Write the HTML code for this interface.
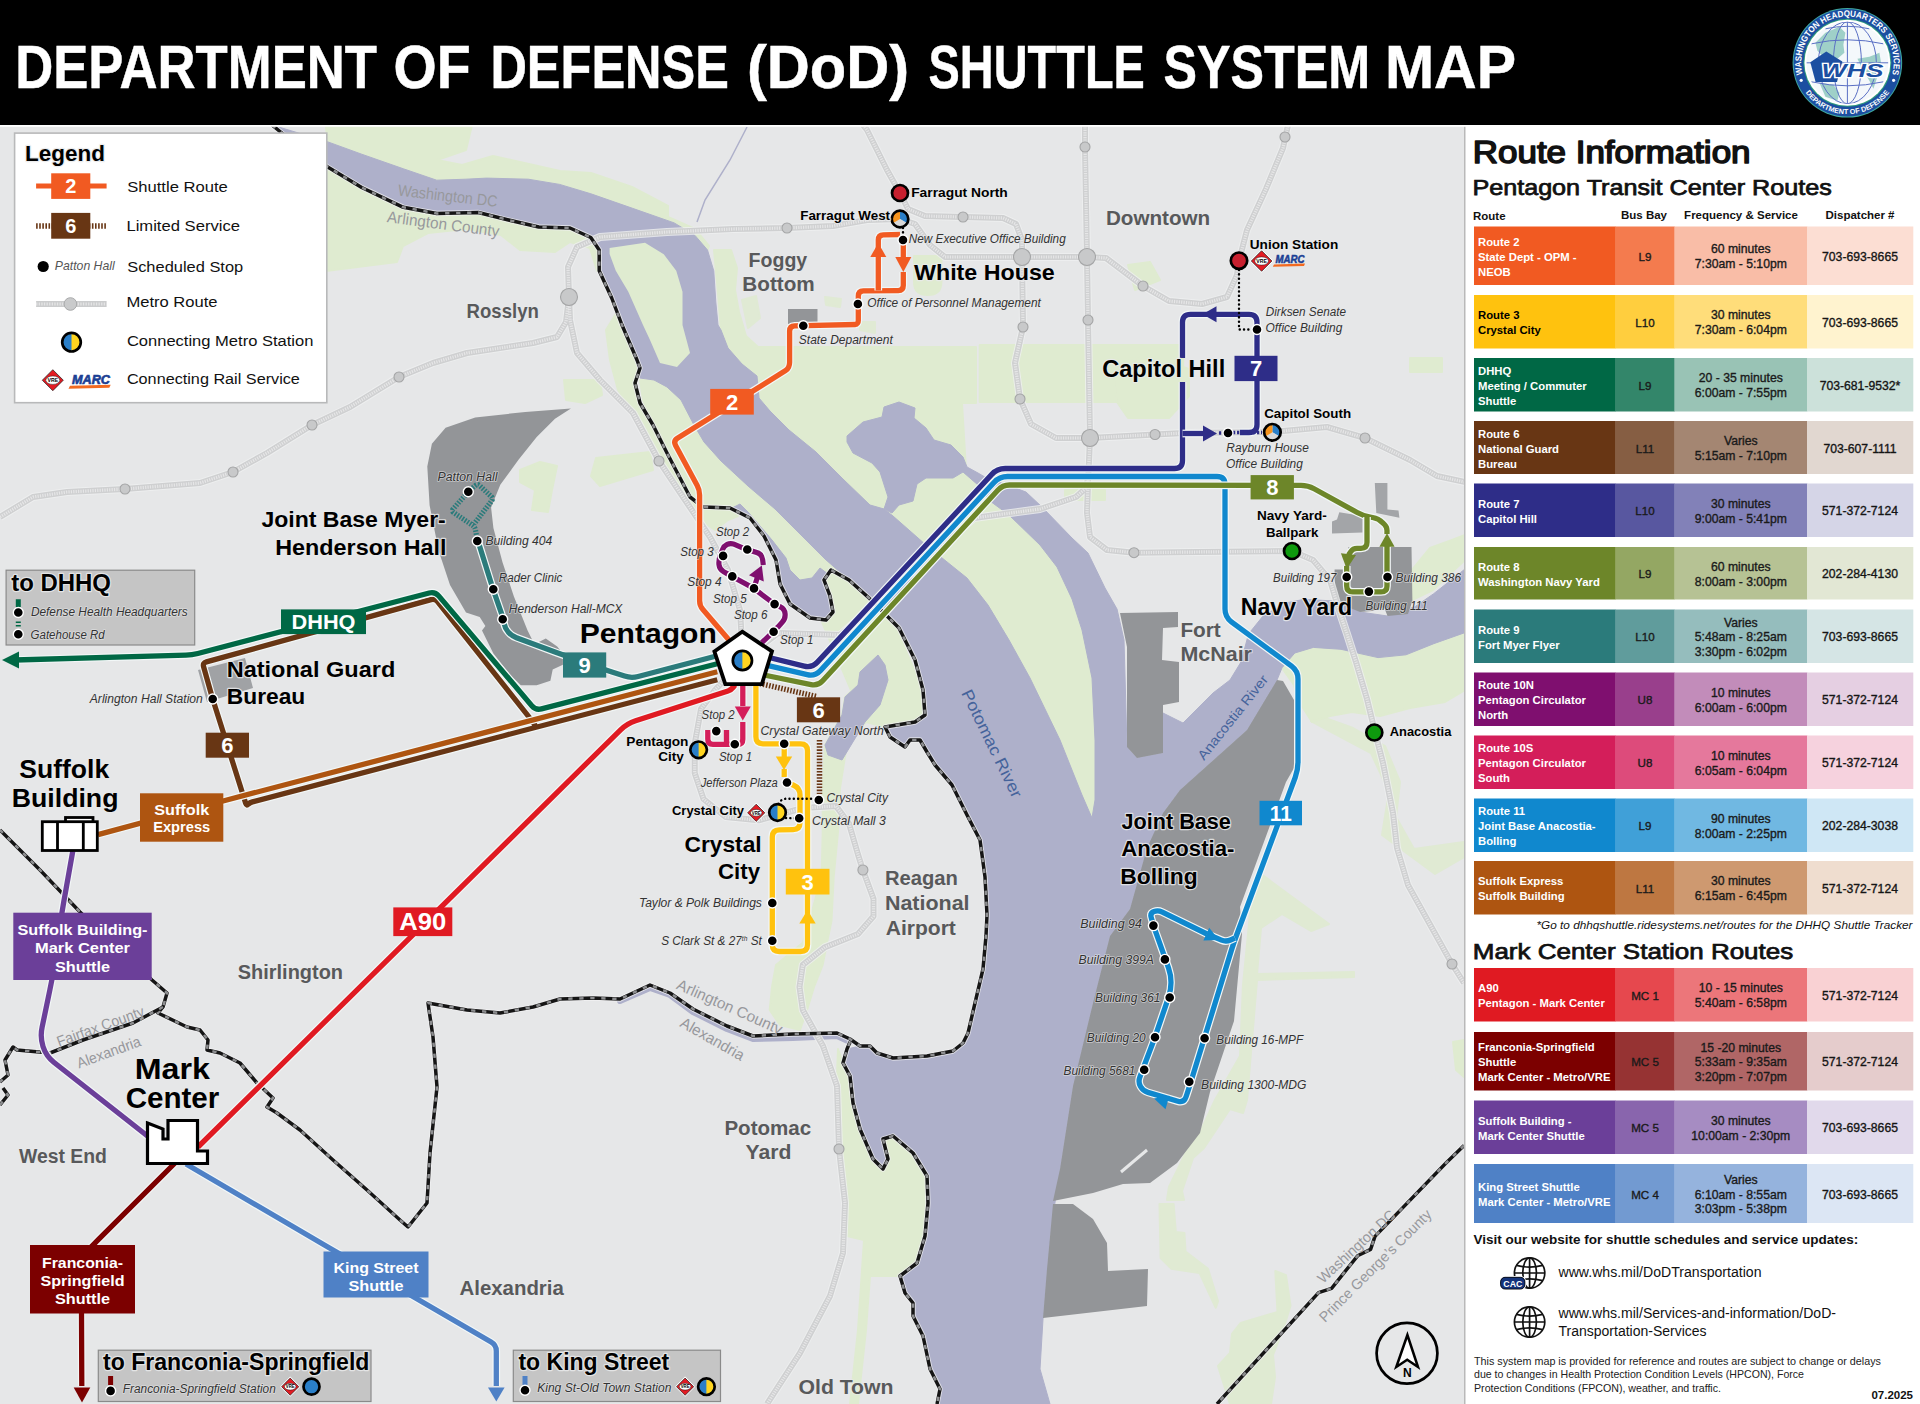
<!DOCTYPE html>
<html><head><meta charset="utf-8"><title>DoD Shuttle System Map</title>
<style>
html,body{margin:0;padding:0;background:#fff;}
body{width:1920px;height:1404px;overflow:hidden;font-family:"Liberation Sans",sans-serif;}
svg{display:block;position:absolute;left:0;top:0;}
text{font-family:"Liberation Sans",sans-serif;}
.sb{stroke:#1a1a1a;stroke-width:.35px;}
.lbl{font-weight:bold;fill:#000;paint-order:stroke;stroke:#e9eaeb;stroke-width:2.4px;stroke-linejoin:round;stroke-opacity:.85;}
.area{font-weight:bold;fill:#58595b;paint-order:stroke;stroke:#e9eaeb;stroke-width:2px;stroke-linejoin:round;stroke-opacity:.7;}
.stop{font-style:italic;fill:#333;font-size:12.5px;paint-order:stroke;stroke:#e9eaeb;stroke-width:1.6px;stroke-linejoin:round;stroke-opacity:.6;}
</style></head><body>
<svg width="1920" height="1404" viewBox="0 0 1920 1404">
<rect x="0" y="0" width="1920" height="1404" fill="#fff"/>
<!-- ===== MAP BASE ===== -->
<defs>
<clipPath id="mapclip"><rect x="0" y="125" width="1464" height="1279"/></clipPath>
</defs>
<g clip-path="url(#mapclip)">
<rect x="0" y="125" width="1465" height="1279" fill="#e6e7e8"/>
<!-- parks -->
<g fill="#dfebd0" stroke="#dfebd0" stroke-width="2" stroke-linejoin="round">
<!-- north bank strip along river top -->
<path d="M326,127 L472,125 L466,150 L437,160 L462,165 L493,156 L520,162 L560,171 L591,173 L632,187 L668,206 L668,217 L695,229 L709,246 L707.5,250 L695,235.4 L674.2,222.9 L632.5,208.3 L590.8,193.75 L559.6,184.4 L528.3,179.2 L486.7,178.1 L465.8,179.2 L436.7,180.2 L403.3,168.75 L361.7,154.2 L327.3,141.7 Z"/>
<!-- south bank strip (Arlington side) -->
<path d="M326,166 L361.7,187.5 L403.3,207.3 L436.7,213.5 L478.3,212.5 L507.5,219.8 L538.75,227 L570,228 L590.8,237.5 L599.2,250 L599.2,270.8 L597,271 L590,248 L570,242 L555,252 L520,250 L501,235 L466,229 L428,233 L403,246 L397,262 L326,271 Z"/>
<!-- west potomac park + mall -->
<path d="M714,250 L718,293 L721,330 L728,348 L742,364 L757,376 L759,398 L770,411 L789,430 L816,452 L843,479 L870,505 L893,516 L926,545 L967,578 L988,605 L1009,640 L1030,678 L1060,740 L1082,795 L1092,818 L1095,800 L1095,740 L1092,678 L1082,630 L1072,599 L1057,567 L1040,545 L1009,515 L990,501 L978,480 L966,470 L962,403 L976,403 L976,347 L758,347 L746,336 L739,312 L735,290 L737,268 L731,250 Z"/>
<rect x="979.7" y="345" width="203.5" height="57"/>
<!-- ellipse / white house -->
<path d="M914,256 H941.4 V282 Q941.4,295 927.7,295 Q914,295 914,282 Z"/>
<path d="M825,297 L841,299 L840,307 L826,305 Z M742,300 L756,296 L760,318 L748,328 Z M860,322 L875,322 L875,333 L860,330 Z" opacity=".8"/>
<!-- Roosevelt island -->
<path d="M609.6,248 L645,242.7 L663.75,254.2 L676.25,270.8 L682.5,291.7 L682.5,325 L690,353 L677,367 L660,363 L650,340 L643,325 L628.3,291.7 L615.8,270.8 L609.6,254 Z"/>
<!-- Columbia island / LBJ park -->
<path d="M640,380 L654,380 L667,387 L681,400 L694,425 L704,442 L721,461 L748,486 L775,509 L800,534 L825,559 L822,572 L812,578 L800,580 L790,570 L786,558 L772,540 L760,526 L748,512 L732,507 L716,509 L698,507 L691,500 L681,479 L667,452 L654,425 L643,400 Z"/>
<!-- GW parkway strip south of lagoon to airport -->
<path d="M825,559 L868,598 L897,630 L915,672 L923,690 L925,715 L915,722 L885,727 L866,722 L880,705 L888,680 L885,665 L878,655 L860,672 L858,685 L845,697 L842,715 L825,745 L822.7,788 L822.7,832 L821.6,876.6 L809.4,920.7 L802.8,942.8 L776,964.9 L772,987 L769.7,1010 L780,1025 L800,1030 L807,1010 L814,987 L822.7,964.9 L827,942.8 L831.5,920.7 L833.7,876.6 L838,832 L840,788 L847,744 L865,723 L822,622 L832,609 L830,588 L822,576 Z"/>
<!-- arlington cemetery greens -->
<path d="M564,380 L600,380 L602,395 L585,403 L566,400 Z"/>
<path d="M596,458 L650,452 L653,470 L600,486 L591,476 Z"/>
<path d="M520,470 L540,462 L557,466 L552,490 L548,512 L532,510 L535,490 L520,482 Z"/>
<path d="M620,307 L637,360 L640,368 L635,383 L640,403 L653,425 L667,453 L690,497 L703,507 L730,508 L738,516 L728,520 L715,530 L700,520 L683,497 L659,461 L633,413 L618,390 L610,360 L606,330 Z"/>
<!-- Daingerfield island -->
<path d="M838,1049 L843,1063 L850,1076 L853,1103 L860,1129 L873,1159 L883,1169 L888,1159 L883,1139 L893,1136 L913,1153 L927,1176 L928,1203 L925,1236 L917,1263 L900,1276 L870,1276 L866,1330 L858,1404 L850,1404 L858,1330 L864,1240 L847,1236 L843,1169 L836,1100 Z"/>
<!-- anacostia park greens -->
<path d="M1465,560 L1433,590 L1412,600 L1412,570 L1430,548 L1452,540 L1465,535 Z"/>
<path d="M1282,668 L1295,653 L1313,647 L1341,649 L1378,658 L1406,655 L1434,644 L1465,632 L1465,690 L1445,702 L1410,708 L1380,716 L1352,712 L1330,716 L1312,722 L1298,700 L1294,685 Z"/>
<path d="M1311,721 L1339,736 L1371,753 L1389,792 L1382,835 L1435,874 L1464,857 L1464,842 L1414,849 L1396,817 L1400,782 L1385,746 L1353,728 L1325,718 Z" opacity=".85"/>
<path d="M1261,874 L1329,924 L1311,931 L1282,914 L1261,928 L1257,974 L1354,972 L1354,977 L1257,980 L1247,1100 L1243,1113 L1230,1109 L1204,1148 L1193,1158 L1182,1191 L1184,1200 L1167,1200 L1169,1187 L1187,1150 L1202,1128 L1215,1100 L1240,1056 L1243,985 L1250,914 Z" opacity=".85"/>
<path d="M1159.5,1204 L1173.6,1204 L1175.8,1232 L1184.4,1233 L1185.5,1251.5 L1208,1268.8 L1218,1301.3 L1215.8,1307.8 L1199.6,1273 L1171.4,1268.8 L1160.6,1258 Z" opacity=".85"/>
<path d="M1275.3,1271 L1286,1275.3 L1290.5,1305.6 L1284,1327 L1273,1355 L1275,1377 L1271,1404 L1230,1404 L1218,1366 L1230,1353 L1232,1333.8 L1240.7,1323 L1277.5,1312 Z" opacity=".9"/>
<path d="M1453,1042 L1464,1040 L1464,1077 L1456,1070 Z"/>
<!-- capitol grounds -->
<path d="M1111,360 L1153,357 L1189,369 L1189,396 L1169,418 L1128,418 L1117,402 Z"/>
<!-- misc small parks -->
<rect x="1410" y="358" width="32" height="14"/>
<rect x="1065" y="490" width="40" height="10"/>
<path d="M1128,265 L1150,262 L1160,280 L1135,290 Z"/>
</g>
<!-- water -->
<g fill="#aeb0ca" stroke="#aeb0ca" stroke-width="1" stroke-linejoin="round">
<!-- upper river + main channel -->
<path d="M272,125 L327.3,141.7 L361.7,154.2 L403.3,168.75 L436.7,180.2 L465.8,179.2 L486.7,178.1 L528.3,179.2 L559.6,184.4 L590.8,193.75 L632.5,208.3 L674.2,222.9 L695,235.4 L707.5,250 L713.75,270.8 L715.8,302 L718,325 L721,330 L728,348 L742,364 L757,376 L759,398 L770,411 L789,430 L816,452 L843,479 L870,505 L884,509 L893,516 L926,545 L967,578 L988,605 L1009,640 L1030,678 L1060,740 L1082,795 L1092,818 L1095,800 L1095,740 L1092,678 L1082,630 L1072,599 L1057,567 L1040,545 L1009,515 L990,501 L978,480 L988,478 L1026,492 L1042,507 L1072,538 L1088,553 L1105,588 L1117,609 L1124,640 L1127,747 L1137,758 L1163,753 L1163,713 L1183,723 L1213,693 L1230,680 L1241,662 L1248.5,634 L1263,616 L1285.6,603 L1304,599.3 L1334,601 L1360,612 L1387.5,616 L1415,606.7 L1433.7,593.7 L1465,569 L1465,632.6 L1433.7,643.7 L1406,654.8 L1378,657.6 L1341,649.3 L1313.3,647.4 L1294.8,653 L1282,667.8 L1277,680 L1247,730 L1180,790 L1163,813 L1147,848 L1130,909 L1110,936 L1093,1003 L1073,1086 L1060,1169 L1050,1236 L1043,1319 L1040,1369 L1050,1404 L937,1404 L940,1389 L930,1369 L923,1336 L913,1316 L913,1303 L905,1293 L900,1276 L917,1263 L925,1236 L928,1203 L927,1176 L913,1153 L893,1136 L883,1139 L888,1159 L883,1169 L873,1159 L860,1129 L853,1103 L850,1076 L843,1063 L847,1049 L860,1046 L870,1046 L877,1053 L893,1058 L927,1056 L953,1051 L963,1043 L968,1033 L975,1003 L983,969 L986,936 L987,915 L985,877 L980,840 L967,815 L952,785 L935,765 L927,752 L920,740 L910,740 L905,747 L890,737 L885,727 L915,722 L925,715 L923,690 L915,660 L899,628 L869,598 L849,580 L825,559 L800,534 L775,509 L748,486 L721,461 L704,442 L694,425 L681,400 L667,387 L654,380 L640,378 L636,360 L622,325 L611.7,298 L599.2,270.8 L599.2,250 L590.8,237.5 L570,228 L538.75,227 L507.5,219.8 L478.3,212.5 L436.7,213.5 L403.3,207.3 L361.7,187.5 L327.3,166.7 L272,127 Z"/>
<!-- tidal basin -->
<path d="M847,436 L863,422 L882,417 L884,407 L899,402 L915,408 L914,418 L926,428 L934,440 L951,445 L963,457 L967,467 L978,473 L990,480 L990,501 L978,485 L963,472 L953,478 L926,478 L917,484 L913,501 L899,505 L892,513 L884,509 L888,497 L880,472 L872,463 L853,453 L847,442 Z"/>
<!-- pentagon lagoon -->
<path d="M732,508 L750,518 L764,536 L776,560 L780,584 L790,604 L810,618 L826,620 L833,612 L830,596 L824,580 L828,574 L820,568 L812,578 L800,580 L790,570 L786,558 L772,540 L760,526 L748,512 L740,504 Z"/>
<!-- roaches run -->
<path d="M860,672 L878,655 L885,665 L888,680 L880,705 L865,722 L842,760 L828,755 L825,745 L842,715 L845,697 L858,685 Z"/>
</g>
<!-- four mile run -->
<path d="M620,1001 L650,988 L670,995 L693,1012 L727,1029 L753,1039 L793,1038 L837,1036 L850,1042" fill="none" stroke="#aeb0ca" stroke-width="6" stroke-linecap="round" stroke-linejoin="round"/>
<!-- rock creek -->
<path d="M747,127 L730,160 L705,200 L697,222" fill="none" stroke="#aeb0ca" stroke-width="1.5"/>
<!-- re-draw parks on water: islands -->
<g fill="#dfebd0">
<path d="M609.6,248 L645,242.7 L663.75,254.2 L676.25,270.8 L682.5,291.7 L682.5,325 L690,353 L677,367 L660,363 L650,340 L643,325 L628.3,291.7 L615.8,270.8 L609.6,254 Z"/>
</g>
<!-- bases (gray) -->
<g fill="#939598">
<!-- JBMHH -->
<path d="M570.9,408.5 L525.3,411.9 L475.2,417.6 L445.6,427.8 L431.9,443.8 L427.3,466.6 L429.6,505.3 L438.7,550.9 L450,585 L466,612.4 L479.7,617 L485.4,626 L482,630.6 L493.4,653.4 L509.4,674 L520.8,685.3 L536.7,685.3 L550.4,680.8 L552.7,669.4 L562.9,664.8 L562.9,653.4 L557.2,646.6 L545.8,638.6 L534.4,644.3 L527.6,630.6 L513.9,596.4 L502.5,562.3 L493.4,528 L491.1,507.6 L500.3,484.8 L518.5,459.7 L536.7,437 L555,418.7 Z"/>
<!-- NGB -->
<path d="M198,670 L245,658 L253,688 L207,702 Z" fill="#a0a2a5"/>
<!-- State dept -->
<rect x="788" y="309" width="29.5" height="17.5"/>
<!-- Fort McNair -->
<path d="M1120,613 L1178,612 L1178,627 L1163,628 L1162,660 L1179,662 L1179,702 L1163,705 L1163,753 L1137,758 L1127,747 L1127,647 Z"/>
<!-- Navy yard -->
<path d="M1348.5,547 L1411.5,547 L1412.4,601 L1408,614 L1387.5,616 L1384,607 L1372,611 L1360,612 L1345,606 L1334.6,601 L1334.6,569.6 L1345,569.6 Z"/>
<path d="M1339.3,512.2 L1362.4,515.9 L1362.4,532.6 L1332,533.5 L1332,521.5 L1337,519.5 Z" fill="#a3a5a8"/>
<path d="M1374.8,483 L1387.4,483 L1387.4,509.4 L1398.5,510.4 L1399.4,517.8 L1376.3,513.1 Z" fill="#a3a5a8"/>
<!-- JBAB -->
<path d="M1283,681 L1294,700 L1294,768 L1286,782 L1240,907 L1242,934 L1234,1021 L1210,1092 L1200,1133 L1177,1163 L1150,1183 L1123,1184 L1093,1193 L1053,1201 L1060,1169 L1073,1086 L1093,1003 L1110,936 L1130,909 L1147,848 L1163,813 L1180,790 L1247,730 L1277,680 Z"/>
<path d="M1121,1172 L1147,1150" stroke="#e6e7e8" stroke-width="3" fill="none"/>
<!-- NRL -->
<path d="M1053,1204 L1073,1204 L1093,1219 L1107,1243 L1108,1271 L1148,1269 L1147,1306 L1043,1318 L1047,1269 Z"/>
</g>
<!-- metro lines -->
<g fill="none" stroke-linejoin="round" stroke-linecap="butt">
<path d="M0,517 L33,497 L67,492 L125,489 L200,483 L233,472 L267,453 L312,425 L350,407 L399,377 L433,363 L467,353 L533,343 L557,337 L566,322 L569,297 L568,267 L577,247 L600,237 L667,232 L733,229 L787,228 L833,226 L867,220 L900,219 L915,224 L930,245 L945,257 L1022,257 L1087,257 L1106,258 L1143,286 L1169,301 L1202,304 L1227,297 L1237,275 L1239,261 L1247,230 L1266,189 L1283,148 L1288,125" stroke="#eff0f0" stroke-opacity=".8" stroke-width="8"/>
<path d="M863,125 L867,130 L887,170 L900,193 L908,209 L925,216 L963,217 L1003,218 L1016,224 L1022,240 L1022,257 L1023,327 L1015,363 L1020,399 L1031,424 L1056,438 L1090,438 L1155,434.5 L1184,433 L1272,432 L1327,427 L1365,438 L1410,460 L1437,476 L1465,482" stroke="#eff0f0" stroke-opacity=".8" stroke-width="8"/>
<path d="M1085,125 L1085,147 L1087,257 L1088,320 L1090,438 L1088,484 L1087,513 L1090,537 L1107,550 L1134,552.7 L1197,552 L1292,551 L1313,560 L1330,580 L1338,607 L1347,634 L1356,662 L1367,699 L1375,732 L1383,763 L1393,813 L1397,848 L1408,885 L1452,964 L1464,983" stroke="#eff0f0" stroke-opacity=".8" stroke-width="8"/>
<path d="M569,297 L570,320 L577,353 L600,380 L633,413 L659,461 L683,497 L710,537 L728,570 L740,610 L743,660" stroke="#eff0f0" stroke-opacity=".8" stroke-width="8"/>
<path d="M743,660 L778,633 L840,635 L974,518 L1040,509 L1076,497 L1086,488 L1088,478" stroke="#eff0f0" stroke-opacity=".8" stroke-width="8"/>
<path d="M743,660 L715,690 L701,709 L694.7,744 L694.7,773 L703.5,799 L725.6,817 L758.7,820.3 L778,815 L802.8,808 L836,806 L849,823.6 L858,854.5 L862.9,870 L873.5,898.7 L873.5,916.3 L858,934 L825,947.2 L802.8,964.9 L799.5,987 L802.8,1010 L823,1046 L837,1086 L839,1149 L845,1203 L843,1253 L830,1296 L800,1353 L767,1404" stroke="#eff0f0" stroke-opacity=".8" stroke-width="8"/>
<path d="M0,517 L33,497 L67,492 L125,489 L200,483 L233,472 L267,453 L312,425 L350,407 L399,377 L433,363 L467,353 L533,343 L557,337 L566,322 L569,297 L568,267 L577,247 L600,237 L667,232 L733,229 L787,228 L833,226 L867,220 L900,219 L915,224 L930,245 L945,257 L1022,257 L1087,257 L1106,258 L1143,286 L1169,301 L1202,304 L1227,297 L1237,275 L1239,261 L1247,230 L1266,189 L1283,148 L1288,125" stroke="#cfd0d1" stroke-width="6"/>
<path d="M863,125 L867,130 L887,170 L900,193 L908,209 L925,216 L963,217 L1003,218 L1016,224 L1022,240 L1022,257 L1023,327 L1015,363 L1020,399 L1031,424 L1056,438 L1090,438 L1155,434.5 L1184,433 L1272,432 L1327,427 L1365,438 L1410,460 L1437,476 L1465,482" stroke="#cfd0d1" stroke-width="6"/>
<path d="M1085,125 L1085,147 L1087,257 L1088,320 L1090,438 L1088,484 L1087,513 L1090,537 L1107,550 L1134,552.7 L1197,552 L1292,551 L1313,560 L1330,580 L1338,607 L1347,634 L1356,662 L1367,699 L1375,732 L1383,763 L1393,813 L1397,848 L1408,885 L1452,964 L1464,983" stroke="#cfd0d1" stroke-width="6"/>
<path d="M569,297 L570,320 L577,353 L600,380 L633,413 L659,461 L683,497 L710,537 L728,570 L740,610 L743,660" stroke="#cfd0d1" stroke-width="6"/>
<path d="M743,660 L778,633 L840,635 L974,518 L1040,509 L1076,497 L1086,488 L1088,478" stroke="#cfd0d1" stroke-width="6"/>
<path d="M743,660 L715,690 L701,709 L694.7,744 L694.7,773 L703.5,799 L725.6,817 L758.7,820.3 L778,815 L802.8,808 L836,806 L849,823.6 L858,854.5 L862.9,870 L873.5,898.7 L873.5,916.3 L858,934 L825,947.2 L802.8,964.9 L799.5,987 L802.8,1010 L823,1046 L837,1086 L839,1149 L845,1203 L843,1253 L830,1296 L800,1353 L767,1404" stroke="#cfd0d1" stroke-width="6"/>
<path d="M0,517 L33,497 L67,492 L125,489 L200,483 L233,472 L267,453 L312,425 L350,407 L399,377 L433,363 L467,353 L533,343 L557,337 L566,322 L569,297 L568,267 L577,247 L600,237 L667,232 L733,229 L787,228 L833,226 L867,220 L900,219 L915,224 L930,245 L945,257 L1022,257 L1087,257 L1106,258 L1143,286 L1169,301 L1202,304 L1227,297 L1237,275 L1239,261 L1247,230 L1266,189 L1283,148 L1288,125" stroke="#e6e6e7" stroke-width="3.2" stroke-dasharray="1.2 1.2"/>
<path d="M863,125 L867,130 L887,170 L900,193 L908,209 L925,216 L963,217 L1003,218 L1016,224 L1022,240 L1022,257 L1023,327 L1015,363 L1020,399 L1031,424 L1056,438 L1090,438 L1155,434.5 L1184,433 L1272,432 L1327,427 L1365,438 L1410,460 L1437,476 L1465,482" stroke="#e6e6e7" stroke-width="3.2" stroke-dasharray="1.2 1.2"/>
<path d="M1085,125 L1085,147 L1087,257 L1088,320 L1090,438 L1088,484 L1087,513 L1090,537 L1107,550 L1134,552.7 L1197,552 L1292,551 L1313,560 L1330,580 L1338,607 L1347,634 L1356,662 L1367,699 L1375,732 L1383,763 L1393,813 L1397,848 L1408,885 L1452,964 L1464,983" stroke="#e6e6e7" stroke-width="3.2" stroke-dasharray="1.2 1.2"/>
<path d="M569,297 L570,320 L577,353 L600,380 L633,413 L659,461 L683,497 L710,537 L728,570 L740,610 L743,660" stroke="#e6e6e7" stroke-width="3.2" stroke-dasharray="1.2 1.2"/>
<path d="M743,660 L778,633 L840,635 L974,518 L1040,509 L1076,497 L1086,488 L1088,478" stroke="#e6e6e7" stroke-width="3.2" stroke-dasharray="1.2 1.2"/>
<path d="M743,660 L715,690 L701,709 L694.7,744 L694.7,773 L703.5,799 L725.6,817 L758.7,820.3 L778,815 L802.8,808 L836,806 L849,823.6 L858,854.5 L862.9,870 L873.5,898.7 L873.5,916.3 L858,934 L825,947.2 L802.8,964.9 L799.5,987 L802.8,1010 L823,1046 L837,1086 L839,1149 L845,1203 L843,1253 L830,1296 L800,1353 L767,1404" stroke="#e6e6e7" stroke-width="3.2" stroke-dasharray="1.2 1.2"/>
</g>
<g fill="#c8c9ca" stroke="#a4a5a6" stroke-width="1.1">
<circle cx="125" cy="489" r="5"/>
<circle cx="233" cy="472" r="5"/>
<circle cx="312" cy="425" r="5"/>
<circle cx="399" cy="377" r="5"/>
<circle cx="659" cy="461" r="5"/>
<circle cx="787" cy="228" r="5"/>
<circle cx="963" cy="217" r="5"/>
<circle cx="1023" cy="327" r="5"/>
<circle cx="1020" cy="399" r="5"/>
<circle cx="1085" cy="147" r="5"/>
<circle cx="1088" cy="320" r="5"/>
<circle cx="1143" cy="286" r="5"/>
<circle cx="1155" cy="434.5" r="5"/>
<circle cx="1365" cy="438" r="5"/>
<circle cx="1134" cy="552.7" r="5"/>
<circle cx="1285" cy="137" r="5"/>
<circle cx="862.9" cy="870" r="5"/>
<circle cx="839" cy="1149" r="5"/>
<circle cx="1452" cy="964" r="5"/>
<circle cx="569" cy="297" r="8.5"/>
<circle cx="1022" cy="257" r="8.5"/>
<circle cx="1087" cy="257" r="8.5"/>
<circle cx="1090" cy="438" r="8.5"/>
</g>
<!-- boundaries -->
<g fill="none" stroke-linejoin="round">
<path d="M272,125 L300,148 L327.3,166.7 L361.7,187.5 L403.3,207.3 L436.7,213.5 L478.3,212.5 L507.5,219.8 L538.75,227 L570,228 L590.8,237.5 L599.2,250 L599.2,270.8 L611.7,298 L622,325 L637,360 L640,368 L635,383 L640,403 L653,425 L667,453 L690,497 L703,507 L730,508 L750,518 L764,536 L776,560 L780,584 L790,604 L810,618 L826,620 L833,612 L830,596 L824,580 L831,570 L849,580 L869,598 L899,628 L915,660 L923,690 L925,715 L915,722 L885,727 L890,737 L905,747 L910,740 L920,740 L927,752 L935,765 L952,785 L967,815 L980,840 L985,877 L987,915 L986,936 L983,969 L975,1003 L968,1033 L963,1043 L953,1051 L927,1056 L893,1058 L877,1053 L870,1046 L860,1046 L850,1039 L837,1033 L793,1034 L753,1036 L727,1026 L693,1009 L670,993 L650,985 L620,999 L593,998 L560,999 L533,1007 L500,1013 L467,1010 L428,1003 L433,1037 L437,1087 L430,1153 L427,1203 L408,1227 L400,1220 L367,1190 L333,1160 L300,1130 L277,1113 L267,1107 L273,1098 L257,1083 L240,1063 L220,1053 L207,1050 L208,1040 L200,1030 L187,1027 L158,1013 L163,1007 L167,993 L152,980 L80,912 L40,870 L0,830" stroke="#f2f2f3" stroke-opacity=".7" stroke-width="5.4"/>
<path d="M850,1042 L847,1049 L843,1063 L850,1076 L853,1103 L860,1129 L873,1159 L883,1169 L888,1159 L883,1139 L893,1136 L913,1153 L927,1176 L928,1203 L925,1236 L917,1263 L900,1276 L905,1293 L913,1303 L913,1316 L923,1336 L930,1369 L940,1389 L937,1404" stroke="#f2f2f3" stroke-opacity=".7" stroke-width="5.4"/>
<path d="M163,1007 L133,1023 L83,1040 L50,1053 L17,1050 L13,1047 L5,1060 L8,1075 L0,1082" stroke="#f2f2f3" stroke-opacity=".7" stroke-width="5.4"/>
<path d="M0,1105 L8,1095 L3,1088" stroke="#f2f2f3" stroke-opacity=".7" stroke-width="5.4"/>
<path d="M1464,1145.5 L1446,1163 L1375,1236.4 L1370.6,1249.4 L1357.6,1255.8 L1331.6,1288.3 L1318.6,1292.6 L1217,1404" stroke="#f2f2f3" stroke-opacity=".7" stroke-width="5.4"/>
<path d="M272,125 L300,148 L327.3,166.7 L361.7,187.5 L403.3,207.3 L436.7,213.5 L478.3,212.5 L507.5,219.8 L538.75,227 L570,228 L590.8,237.5 L599.2,250 L599.2,270.8 L611.7,298 L622,325 L637,360 L640,368 L635,383 L640,403 L653,425 L667,453 L690,497 L703,507 L730,508 L750,518 L764,536 L776,560 L780,584 L790,604 L810,618 L826,620 L833,612 L830,596 L824,580 L831,570 L849,580 L869,598 L899,628 L915,660 L923,690 L925,715 L915,722 L885,727 L890,737 L905,747 L910,740 L920,740 L927,752 L935,765 L952,785 L967,815 L980,840 L985,877 L987,915 L986,936 L983,969 L975,1003 L968,1033 L963,1043 L953,1051 L927,1056 L893,1058 L877,1053 L870,1046 L860,1046 L850,1039 L837,1033 L793,1034 L753,1036 L727,1026 L693,1009 L670,993 L650,985 L620,999 L593,998 L560,999 L533,1007 L500,1013 L467,1010 L428,1003 L433,1037 L437,1087 L430,1153 L427,1203 L408,1227 L400,1220 L367,1190 L333,1160 L300,1130 L277,1113 L267,1107 L273,1098 L257,1083 L240,1063 L220,1053 L207,1050 L208,1040 L200,1030 L187,1027 L158,1013 L163,1007 L167,993 L152,980 L80,912 L40,870 L0,830" stroke="#151515" stroke-width="3.5"/>
<path d="M272,125 L300,148 L327.3,166.7 L361.7,187.5 L403.3,207.3 L436.7,213.5 L478.3,212.5 L507.5,219.8 L538.75,227 L570,228 L590.8,237.5 L599.2,250 L599.2,270.8 L611.7,298 L622,325 L637,360 L640,368 L635,383 L640,403 L653,425 L667,453 L690,497 L703,507 L730,508 L750,518 L764,536 L776,560 L780,584 L790,604 L810,618 L826,620 L833,612 L830,596 L824,580 L831,570 L849,580 L869,598 L899,628 L915,660 L923,690 L925,715 L915,722 L885,727 L890,737 L905,747 L910,740 L920,740 L927,752 L935,765 L952,785 L967,815 L980,840 L985,877 L987,915 L986,936 L983,969 L975,1003 L968,1033 L963,1043 L953,1051 L927,1056 L893,1058 L877,1053 L870,1046 L860,1046 L850,1039 L837,1033 L793,1034 L753,1036 L727,1026 L693,1009 L670,993 L650,985 L620,999 L593,998 L560,999 L533,1007 L500,1013 L467,1010 L428,1003 L433,1037 L437,1087 L430,1153 L427,1203 L408,1227 L400,1220 L367,1190 L333,1160 L300,1130 L277,1113 L267,1107 L273,1098 L257,1083 L240,1063 L220,1053 L207,1050 L208,1040 L200,1030 L187,1027 L158,1013 L163,1007 L167,993 L152,980 L80,912 L40,870 L0,830" stroke="#8d8e90" stroke-width="2.5" stroke-dasharray="4.3 6.7"/>
<path d="M850,1042 L847,1049 L843,1063 L850,1076 L853,1103 L860,1129 L873,1159 L883,1169 L888,1159 L883,1139 L893,1136 L913,1153 L927,1176 L928,1203 L925,1236 L917,1263 L900,1276 L905,1293 L913,1303 L913,1316 L923,1336 L930,1369 L940,1389 L937,1404" stroke="#151515" stroke-width="3.5"/>
<path d="M850,1042 L847,1049 L843,1063 L850,1076 L853,1103 L860,1129 L873,1159 L883,1169 L888,1159 L883,1139 L893,1136 L913,1153 L927,1176 L928,1203 L925,1236 L917,1263 L900,1276 L905,1293 L913,1303 L913,1316 L923,1336 L930,1369 L940,1389 L937,1404" stroke="#8d8e90" stroke-width="2.5" stroke-dasharray="4.3 6.7"/>
<path d="M163,1007 L133,1023 L83,1040 L50,1053 L17,1050 L13,1047 L5,1060 L8,1075 L0,1082" stroke="#151515" stroke-width="3.5"/>
<path d="M163,1007 L133,1023 L83,1040 L50,1053 L17,1050 L13,1047 L5,1060 L8,1075 L0,1082" stroke="#8d8e90" stroke-width="2.5" stroke-dasharray="4.3 6.7"/>
<path d="M0,1105 L8,1095 L3,1088" stroke="#151515" stroke-width="3.5"/>
<path d="M0,1105 L8,1095 L3,1088" stroke="#8d8e90" stroke-width="2.5" stroke-dasharray="4.3 6.7"/>
<path d="M1464,1145.5 L1446,1163 L1375,1236.4 L1370.6,1249.4 L1357.6,1255.8 L1331.6,1288.3 L1318.6,1292.6 L1217,1404" stroke="#151515" stroke-width="3.5"/>
<path d="M1464,1145.5 L1446,1163 L1375,1236.4 L1370.6,1249.4 L1357.6,1255.8 L1331.6,1288.3 L1318.6,1292.6 L1217,1404" stroke="#8d8e90" stroke-width="2.5" stroke-dasharray="4.3 6.7"/>
</g>
</g>
<!-- ===== ROUTES ===== -->
<g clip-path="url(#mapclip)" fill="none" stroke-linecap="butt" stroke-linejoin="round">
<path d="M72.8,851.0 L63.7,902.2 Q62.0,912.0 60.5,921.9 L53.5,970.1 Q52.0,980.0 49.9,989.8 L42.1,1027.3 Q40.0,1037.0 43.0,1046.5 L43.0,1046.5 Q46.0,1056.0 53.8,1062.2 L150.0,1138.0" stroke="#f2f7f7" stroke-width="7.699999999999999" />
<path d="M72.8,851.0 L63.7,902.2 Q62.0,912.0 60.5,921.9 L53.5,970.1 Q52.0,980.0 49.9,989.8 L42.1,1027.3 Q40.0,1037.0 43.0,1046.5 L43.0,1046.5 Q46.0,1056.0 53.8,1062.2 L150.0,1138.0" stroke="#6b3f99" stroke-width="5.3" />
<path d="M175.0,1163.0 L99.8,1238.2 Q97.0,1241.0 94.2,1243.9 L84.1,1254.1 Q81.3,1257.0 81.3,1261.0 L81.8,1386.0" stroke="#f2f7f7" stroke-width="7.699999999999999" />
<path d="M175.0,1163.0 L99.8,1238.2 Q97.0,1241.0 94.2,1243.9 L84.1,1254.1 Q81.3,1257.0 81.3,1261.0 L81.8,1386.0" stroke="#7c0000" stroke-width="5.3" />
<path d="M82.0,1402.5 L73.7,1387.5 L90.3,1387.5 Z" fill="#7c0000" stroke="none"/>
<path d="M186.0,1164.0 L327.8,1247.0 Q333.0,1250.0 338.2,1253.0 L491.1,1342.0 Q496.3,1345.0 496.3,1351.0 L496.3,1386.0" stroke="#f2f7f7" stroke-width="7.699999999999999" />
<path d="M186.0,1164.0 L327.8,1247.0 Q333.0,1250.0 338.2,1253.0 L491.1,1342.0 Q496.3,1345.0 496.3,1351.0 L496.3,1386.0" stroke="#4f81c6" stroke-width="5.3" />
<path d="M496.3,1401.5 L488.0,1387.5 L504.6,1387.5 Z" fill="#4f81c6" stroke="none"/>
<path d="M735.0,685.0 L733.0,687.5 Q731.0,690.0 728.0,691.0 L635.6,720.7 Q627.0,723.5 620.6,729.8 L198.0,1147.0" stroke="#f2f7f7" stroke-width="7.699999999999999" />
<path d="M735.0,685.0 L733.0,687.5 Q731.0,690.0 728.0,691.0 L635.6,720.7 Q627.0,723.5 620.6,729.8 L198.0,1147.0" stroke="#e01a22" stroke-width="5.3" />
<path d="M717.3,679.8 L503.9,735.7 Q500.0,736.7 496.1,737.7 L252.4,801.9 Q250.0,802.5 248.2,804.2 L248.2,804.2 Q246.5,806.0 245.8,803.6 L214.2,703.8 Q213.0,700.0 211.9,696.2 L203.6,666.8 Q202.5,663.0 206.4,661.9 L431.1,599.6 Q435.0,598.5 437.5,601.6 L528.5,716.4 Q531.0,719.5 533.3,722.8 L537.0,728.0" stroke="#f2f7f7" stroke-width="7.699999999999999" />
<path d="M717.3,679.8 L503.9,735.7 Q500.0,736.7 496.1,737.7 L252.4,801.9 Q250.0,802.5 248.2,804.2 L248.2,804.2 Q246.5,806.0 245.8,803.6 L214.2,703.8 Q213.0,700.0 211.9,696.2 L203.6,666.8 Q202.5,663.0 206.4,661.9 L431.1,599.6 Q435.0,598.5 437.5,601.6 L528.5,716.4 Q531.0,719.5 533.3,722.8 L537.0,728.0" stroke="#683614" stroke-width="5.3" />
<path d="M717.3,671.8 L502.9,727.8 Q500.0,728.6 497.1,729.4 L225.9,800.2 Q223.0,801.0 220.1,801.8 L98.0,834.6" stroke="#f2f7f7" stroke-width="7.699999999999999" />
<path d="M717.3,671.8 L502.9,727.8 Q500.0,728.6 497.1,729.4 L225.9,800.2 Q223.0,801.0 220.1,801.8 L98.0,834.6" stroke="#ae5511" stroke-width="5.3" />
<path d="M717.3,663.8 L541.5,708.9 Q535.7,710.4 531.8,705.8 L438.9,596.1 Q435.0,591.5 429.2,593.0 L197.8,653.5 Q192.0,655.0 186.0,655.2 L15.0,660.0" stroke="#f2f7f7" stroke-width="7.699999999999999" />
<path d="M717.3,663.8 L541.5,708.9 Q535.7,710.4 531.8,705.8 L438.9,596.1 Q435.0,591.5 429.2,593.0 L197.8,653.5 Q192.0,655.0 186.0,655.2 L15.0,660.0" stroke="#006845" stroke-width="5.3" />
<path d="M2.0,660.0 L19.0,651.5 L19.0,668.5 Z" fill="#006845" stroke="none"/>
<path d="M717.3,655.7 L638.1,676.5 Q631.3,678.3 624.6,676.1 L612.7,672.2 Q606.0,670.0 599.4,667.7 L569.6,657.3 Q563.0,655.0 556.4,652.6 L516.4,637.7 Q511.7,636.0 508.4,632.2 L508.4,632.2 Q505.0,628.5 504.1,623.6 L504.0,623.2 Q503.0,618.0 501.3,612.9 L495.3,595.6 Q493.0,589.0 490.9,582.3 L478.0,541.0" stroke="#f2f7f7" stroke-width="7.699999999999999" />
<path d="M717.3,655.7 L638.1,676.5 Q631.3,678.3 624.6,676.1 L612.7,672.2 Q606.0,670.0 599.4,667.7 L569.6,657.3 Q563.0,655.0 556.4,652.6 L516.4,637.7 Q511.7,636.0 508.4,632.2 L508.4,632.2 Q505.0,628.5 504.1,623.6 L504.0,623.2 Q503.0,618.0 501.3,612.9 L495.3,595.6 Q493.0,589.0 490.9,582.3 L478.0,541.0" stroke="#2b7b7b" stroke-width="5.3" />
<path d="M477.5,540.6 L475.5,530.0 Q475.0,527.0 472.5,525.3 L453.8,512.7 Q451.3,511.0 453.3,508.7 L466.4,493.9 Q468.4,491.6 470.7,489.6 L475.2,485.7 Q477.5,483.7 479.7,485.7 L491.2,496.5 Q493.4,498.5 491.6,500.9 L474.0,524.0" stroke="#2b7b7b" stroke-width="5.2" stroke-dasharray="1.6 1.4"/>
<path d="M729.0,640.0 L702.9,609.5 Q699.6,605.7 699.6,600.7 L699.6,495.0 Q699.6,490.0 697.2,485.6 L675.6,445.4 Q673.2,441.0 677.4,438.3 L785.6,370.6 Q787.6,369.3 788.6,367.1 L788.6,367.1 Q789.6,365.0 789.6,362.6 L789.6,331.0 Q789.6,326.0 794.6,325.9 L855.2,324.5 Q856.7,324.5 857.5,323.2 L857.5,323.2 Q858.3,322.0 858.3,320.5 L858.3,296.0 Q858.3,291.0 863.3,290.9 L898.3,290.6 Q903.3,290.5 903.3,285.5 L903.3,272.0" stroke="#f2f7f7" stroke-width="7.699999999999999" />
<path d="M729.0,640.0 L702.9,609.5 Q699.6,605.7 699.6,600.7 L699.6,495.0 Q699.6,490.0 697.2,485.6 L675.6,445.4 Q673.2,441.0 677.4,438.3 L785.6,370.6 Q787.6,369.3 788.6,367.1 L788.6,367.1 Q789.6,365.0 789.6,362.6 L789.6,331.0 Q789.6,326.0 794.6,325.9 L855.2,324.5 Q856.7,324.5 857.5,323.2 L857.5,323.2 Q858.3,322.0 858.3,320.5 L858.3,296.0 Q858.3,291.0 863.3,290.9 L898.3,290.6 Q903.3,290.5 903.3,285.5 L903.3,272.0" stroke="#f15a22" stroke-width="5.3" />
<path d="M878.3,290.5 L878.3,240.0 Q878.3,235.0 883.3,234.9 L900.0,234.5" stroke="#f2f7f7" stroke-width="7.699999999999999" />
<path d="M878.3,290.5 L878.3,240.0 Q878.3,235.0 883.3,234.9 L900.0,234.5" stroke="#f15a22" stroke-width="5.3" />
<path d="M903.3,240.0 L903.3,257.0" stroke="#f2f7f7" stroke-width="7.699999999999999" />
<path d="M903.3,240.0 L903.3,257.0" stroke="#f15a22" stroke-width="5.3" />
<path d="M903.3,272.0 L895.3,257.0 L911.3,257.0 Z" fill="#f15a22" stroke="none"/>
<path d="M878.3,243.0 L886.3,257.0 L870.3,257.0 Z" fill="#f15a22" stroke="none"/>
<path d="M755.9,684.0 L755.9,736.8 Q755.9,743.8 762.9,743.8 L800.5,743.8 Q807.5,743.8 807.5,750.8 L807.5,944.5 Q807.5,951.5 800.5,951.5 L779.3,951.5 Q772.3,951.5 772.3,944.5 L772.3,837.0 Q772.3,830.0 779.3,829.9 L793.0,829.6 Q800.0,829.5 800.0,822.5 L800.0,795.0 Q800.0,788.0 793.6,785.3 L787.0,782.5" stroke="#f2f7f7" stroke-width="7.699999999999999" />
<path d="M755.9,684.0 L755.9,736.8 Q755.9,743.8 762.9,743.8 L800.5,743.8 Q807.5,743.8 807.5,750.8 L807.5,944.5 Q807.5,951.5 800.5,951.5 L779.3,951.5 Q772.3,951.5 772.3,944.5 L772.3,837.0 Q772.3,830.0 779.3,829.9 L793.0,829.6 Q800.0,829.5 800.0,822.5 L800.0,795.0 Q800.0,788.0 793.6,785.3 L787.0,782.5" stroke="#ffc20e" stroke-width="5.3" />
<path d="M784.2,743.8 L784.2,757.0" stroke="#f2f7f7" stroke-width="7.699999999999999" />
<path d="M784.2,743.8 L784.2,757.0" stroke="#ffc20e" stroke-width="5.3" />
<path d="M784.2,769.0 L784.2,777.0" stroke="#f2f7f7" stroke-width="7.699999999999999" />
<path d="M784.2,769.0 L784.2,777.0" stroke="#ffc20e" stroke-width="5.3" />
<path d="M784.0,770.0 L775.8,756.5 L792.2,756.5 Z" fill="#ffc20e" stroke="none"/>
<path d="M807.5,910.0 L815.7,923.5 L799.3,923.5 Z" fill="#ffc20e" stroke="none"/>
<path d="M742.8,684.0 L742.8,706.0" stroke="#f2f7f7" stroke-width="7.699999999999999" />
<path d="M742.8,684.0 L742.8,706.0" stroke="#d41e5a" stroke-width="5.3" />
<path d="M742.8,720.6 L734.8,706.6 L750.8,706.6 Z" fill="#d41e5a" stroke="none"/>
<path d="M742.8,722.0 L742.8,739.3 Q742.8,744.3 737.8,744.3 L712.8,744.3 Q707.8,744.3 707.8,739.3 L707.8,730.0" stroke="#f2f7f7" stroke-width="7.699999999999999" />
<path d="M742.8,722.0 L742.8,739.3 Q742.8,744.3 737.8,744.3 L712.8,744.3 Q707.8,744.3 707.8,739.3 L707.8,730.0" stroke="#d41e5a" stroke-width="5.3" />
<path d="M726.5,730.0 L726.5,744.3" stroke="#d41e5a" stroke-width="5.3" />
<path d="M761.8,642.7 L769.5,635.4 Q773.8,631.2 778.0,626.9 L782.0,622.6 Q785.5,619.0 785.1,614.0 L785.1,614.0 Q784.8,609.0 780.3,606.9 L779.8,606.6 Q774.8,604.3 770.4,601.0 L758.7,592.2 Q753.9,588.6 748.7,585.6 L737.6,579.4 Q732.4,576.4 727.1,573.6 L723.7,571.8 Q719.5,569.5 719.0,564.8 L719.0,564.8 Q718.5,560.0 720.2,555.5 L722.6,549.4 Q723.9,546.0 727.2,544.4 L727.2,544.4 Q730.5,542.8 733.9,544.2 L741.4,547.4 Q746.9,549.7 752.7,551.3 L756.7,552.5 Q762.0,554.0 762.6,559.5 L763.3,565.0" stroke="#f2f7f7" stroke-width="7.6" />
<path d="M761.8,642.7 L769.5,635.4 Q773.8,631.2 778.0,626.9 L782.0,622.6 Q785.5,619.0 785.1,614.0 L785.1,614.0 Q784.8,609.0 780.3,606.9 L779.8,606.6 Q774.8,604.3 770.4,601.0 L758.7,592.2 Q753.9,588.6 748.7,585.6 L737.6,579.4 Q732.4,576.4 727.1,573.6 L723.7,571.8 Q719.5,569.5 719.0,564.8 L719.0,564.8 Q718.5,560.0 720.2,555.5 L722.6,549.4 Q723.9,546.0 727.2,544.4 L727.2,544.4 Q730.5,542.8 733.9,544.2 L741.4,547.4 Q746.9,549.7 752.7,551.3 L756.7,552.5 Q762.0,554.0 762.6,559.5 L763.3,565.0" stroke="#7f0f6f" stroke-width="5.2" />
<path d="M753.9,588.6 L757.5,577.0" stroke="#f2f7f7" stroke-width="7.6" />
<path d="M753.9,588.6 L757.5,577.0" stroke="#7f0f6f" stroke-width="5.2" />
<path d="M761.8,565.5 L763.8,581.5 L749.0,575.3 Z" fill="#7f0f6f" stroke="none"/>
<path d="M760,683.5 L816.5,696.5" stroke="#683614" stroke-width="5.5" stroke-dasharray="1.6 1.5"/>
<path d="M819.5,740 L819.5,794" stroke="#683614" stroke-width="5.5" stroke-dasharray="1.6 1.5"/>
<path d="M765.0,656.5 L804.2,666.1 Q812.0,668.0 817.4,662.1 L991.8,474.4 Q997.2,468.5 1005.2,468.5 L1174.5,468.5 Q1182.5,468.5 1182.5,460.5 L1182.5,382.0" stroke="#f2f7f7" stroke-width="7.699999999999999" />
<path d="M765.0,656.5 L804.2,666.1 Q812.0,668.0 817.4,662.1 L991.8,474.4 Q997.2,468.5 1005.2,468.5 L1174.5,468.5 Q1182.5,468.5 1182.5,460.5 L1182.5,382.0" stroke="#2e2d88" stroke-width="5.3" />
<path d="M1182.5,358.0 L1182.5,322.3 Q1182.5,314.3 1190.5,314.3 L1249.0,314.3 Q1257.0,314.3 1257.0,322.3 L1257.0,424.5 Q1257.0,432.5 1249.0,432.5 L1240.0,432.5" stroke="#f2f7f7" stroke-width="7.699999999999999" />
<path d="M1182.5,358.0 L1182.5,322.3 Q1182.5,314.3 1190.5,314.3 L1249.0,314.3 Q1257.0,314.3 1257.0,322.3 L1257.0,424.5 Q1257.0,432.5 1249.0,432.5 L1240.0,432.5" stroke="#2e2d88" stroke-width="5.3" />
<path d="M1182.5,433.5 L1204.0,433.5" stroke="#f2f7f7" stroke-width="7.699999999999999" />
<path d="M1182.5,433.5 L1204.0,433.5" stroke="#2e2d88" stroke-width="5.3" />
<path d="M1217.0,433.5 L1203.0,441.5 L1203.0,425.5 Z" fill="#2e2d88" stroke="none"/>
<path d="M1202.5,314.3 L1216.5,306.3 L1216.5,322.3 Z" fill="#2e2d88" stroke="none"/>
<path d="M1219,433 L1224,433 M1233,432.5 L1262,432.5" stroke="#2e2d88" stroke-width="3.5" stroke-dasharray="2.2 1.8"/>
<path d="M765.0,664.8 L807.2,674.7 Q815.0,676.5 820.4,670.6 L994.1,482.4 Q999.5,476.5 1007.5,476.5 L1217.0,476.5 Q1225.0,476.5 1225.0,484.5 L1225.0,609.0 Q1225.0,617.0 1231.4,621.8 L1291.6,666.2 Q1298.0,671.0 1298.0,679.0 L1298.0,762.0 Q1298.0,770.0 1295.2,777.5 L1236.8,934.5 Q1234.0,942.0 1231.6,949.6 L1189.9,1085.0 Q1188.0,1091.0 1186.0,1097.0 L1186.0,1097.0 Q1184.0,1103.0 1177.9,1101.2 L1147.9,1092.4 Q1143.0,1091.0 1140.5,1086.5 L1140.5,1086.5 Q1138.0,1082.0 1139.8,1077.2 L1152.2,1044.5 Q1155.0,1037.0 1157.6,1029.4 L1168.6,997.1 Q1171.0,990.0 1171.0,982.5 L1171.0,982.5 Q1171.0,975.0 1168.5,967.9 L1155.6,931.7 Q1153.4,925.6 1151.7,919.3 L1151.1,917.1 Q1150.0,913.0 1154.0,911.5 L1154.0,911.5 Q1158.0,910.0 1161.8,911.9 L1207.0,934.0" stroke="#f2f7f7" stroke-width="7.699999999999999" />
<path d="M765.0,664.8 L807.2,674.7 Q815.0,676.5 820.4,670.6 L994.1,482.4 Q999.5,476.5 1007.5,476.5 L1217.0,476.5 Q1225.0,476.5 1225.0,484.5 L1225.0,609.0 Q1225.0,617.0 1231.4,621.8 L1291.6,666.2 Q1298.0,671.0 1298.0,679.0 L1298.0,762.0 Q1298.0,770.0 1295.2,777.5 L1236.8,934.5 Q1234.0,942.0 1231.6,949.6 L1189.9,1085.0 Q1188.0,1091.0 1186.0,1097.0 L1186.0,1097.0 Q1184.0,1103.0 1177.9,1101.2 L1147.9,1092.4 Q1143.0,1091.0 1140.5,1086.5 L1140.5,1086.5 Q1138.0,1082.0 1139.8,1077.2 L1152.2,1044.5 Q1155.0,1037.0 1157.6,1029.4 L1168.6,997.1 Q1171.0,990.0 1171.0,982.5 L1171.0,982.5 Q1171.0,975.0 1168.5,967.9 L1155.6,931.7 Q1153.4,925.6 1151.7,919.3 L1151.1,917.1 Q1150.0,913.0 1154.0,911.5 L1154.0,911.5 Q1158.0,910.0 1161.8,911.9 L1207.0,934.0" stroke="#1088ce" stroke-width="5.3" />
<path d="M1207.0,934.0 L1221.5,940.1 Q1226.0,942.0 1230.5,940.0 L1235.0,938.0" stroke="#f2f7f7" stroke-width="7.699999999999999" />
<path d="M1207.0,934.0 L1221.5,940.1 Q1226.0,942.0 1230.5,940.0 L1235.0,938.0" stroke="#1088ce" stroke-width="5.3" />
<path d="M1219.0,940.0 L1203.4,940.6 L1209.2,927.8 Z" fill="#1088ce" stroke="none"/>
<path d="M1154.0,1098.5 L1169.4,1095.7 L1165.5,1109.2 Z" fill="#1088ce" stroke="none"/>
<path d="M764.0,675.0 L811.1,684.6 Q818.0,686.0 822.7,680.8 L997.8,490.2 Q1002.5,485.0 1009.5,485.0 L1301.0,485.4 Q1308.0,485.4 1314.1,488.8 L1357.2,512.5 Q1363.3,515.9 1370.2,517.1 L1372.6,517.5 Q1378.5,518.5 1382.8,522.8 L1384.5,524.5 Q1387.0,527.0 1387.0,530.5 L1387.0,534.0" stroke="#f2f7f7" stroke-width="7.699999999999999" />
<path d="M764.0,675.0 L811.1,684.6 Q818.0,686.0 822.7,680.8 L997.8,490.2 Q1002.5,485.0 1009.5,485.0 L1301.0,485.4 Q1308.0,485.4 1314.1,488.8 L1357.2,512.5 Q1363.3,515.9 1370.2,517.1 L1372.6,517.5 Q1378.5,518.5 1382.8,522.8 L1384.5,524.5 Q1387.0,527.0 1387.0,530.5 L1387.0,534.0" stroke="#6d8629" stroke-width="5.3" />
<path d="M1387.0,546.0 L1387.0,585.9 Q1387.0,591.9 1381.0,591.9 L1352.7,591.9 Q1346.7,591.9 1346.7,585.9 L1346.7,566.0" stroke="#f2f7f7" stroke-width="7.699999999999999" />
<path d="M1387.0,546.0 L1387.0,585.9 Q1387.0,591.9 1381.0,591.9 L1352.7,591.9 Q1346.7,591.9 1346.7,585.9 L1346.7,566.0" stroke="#6d8629" stroke-width="5.3" />
<path d="M1367.0,517.0 L1367.0,542.3 Q1367.0,548.3 1361.0,548.3 L1357.0,548.3 Q1353.0,548.3 1350.8,551.6 L1348.5,555.0" stroke="#f2f7f7" stroke-width="7.699999999999999" />
<path d="M1367.0,517.0 L1367.0,542.3 Q1367.0,548.3 1361.0,548.3 L1357.0,548.3 Q1353.0,548.3 1350.8,551.6 L1348.5,555.0" stroke="#6d8629" stroke-width="5.3" />
<path d="M1346.7,569.0 L1340.9,553.2 L1356.0,555.0 Z" fill="#6d8629" stroke="none"/>
<path d="M1387.0,533.3 L1394.6,546.8 L1379.4,546.8 Z" fill="#6d8629" stroke="none"/>
</g>
<!-- ===== LABELS ===== -->
<g clip-path="url(#mapclip)">
<rect x="710.2" y="388.9" width="43.6" height="25.7" fill="#f15a22"/>
<text x="732.0" y="409.7" font-size="22" font-weight="bold" fill="#fff" text-anchor="middle">2</text>
<rect x="785.8" y="868.8" width="43.7" height="25.7" fill="#ffc20e"/>
<text x="807.6" y="889.5" font-size="22" font-weight="bold" fill="#fff" text-anchor="middle">3</text>
<rect x="205.7" y="732.7" width="43.3" height="25" fill="#683614"/>
<text x="227.3" y="753.1" font-size="22" font-weight="bold" fill="#fff" text-anchor="middle">6</text>
<rect x="796.9" y="697.3" width="43.2" height="25" fill="#683614"/>
<text x="818.5" y="717.7" font-size="22" font-weight="bold" fill="#fff" text-anchor="middle">6</text>
<rect x="1234.5" y="355.8" width="43" height="25.3" fill="#2e2d88"/>
<text x="1256.0" y="376.3" font-size="22" font-weight="bold" fill="#fff" text-anchor="middle">7</text>
<rect x="1250.6" y="475.1" width="43.3" height="24.3" fill="#6d8629"/>
<text x="1272.3" y="495.1" font-size="22" font-weight="bold" fill="#fff" text-anchor="middle">8</text>
<rect x="563.0" y="652.4" width="43.2" height="25.2" fill="#2b7b7b"/>
<text x="584.6" y="672.9" font-size="22" font-weight="bold" fill="#fff" text-anchor="middle">9</text>
<rect x="1259.5" y="800.8" width="42.5" height="24.5" fill="#1088ce"/>
<text x="1280.8" y="820.9" font-size="22" font-weight="bold" fill="#fff" text-anchor="middle" textLength="22" lengthAdjust="spacingAndGlyphs">11</text>
<rect x="393.3" y="907.4" width="59" height="28.7" fill="#e01a22"/>
<text x="422.8" y="930.0" font-size="23" font-weight="bold" fill="#fff" text-anchor="middle" textLength="47" lengthAdjust="spacingAndGlyphs">A90</text>
<rect x="281.0" y="609.4" width="85" height="24.7" fill="#006845"/>
<text x="323.5" y="629.3" font-size="21" font-weight="bold" fill="#fff" text-anchor="middle" textLength="64" lengthAdjust="spacingAndGlyphs">DHHQ</text>
<rect x="140" y="793.3" width="83.3" height="48.4" fill="#ae5511"/>
<text x="181.7" y="815" font-size="15.5" font-weight="bold" fill="#fff" text-anchor="middle" textLength="55" lengthAdjust="spacingAndGlyphs">Suffolk</text>
<text x="181.7" y="832" font-size="15.5" font-weight="bold" fill="#fff" text-anchor="middle" textLength="57" lengthAdjust="spacingAndGlyphs">Express</text>
<rect x="13.3" y="912.7" width="138.4" height="67.3" fill="#6b3f99"/>
<text x="82.5" y="934.5" font-size="15" font-weight="bold" fill="#fff" text-anchor="middle" textLength="130" lengthAdjust="spacingAndGlyphs">Suffolk Building-</text>
<text x="82.5" y="952.5" font-size="15" font-weight="bold" fill="#fff" text-anchor="middle" textLength="95" lengthAdjust="spacingAndGlyphs">Mark Center</text>
<text x="82.5" y="971.5" font-size="15" font-weight="bold" fill="#fff" text-anchor="middle" textLength="55" lengthAdjust="spacingAndGlyphs">Shuttle</text>
<rect x="30" y="1245" width="105.0" height="68.5" fill="#7c0000"/>
<text x="82.5" y="1267.5" font-size="15" font-weight="bold" fill="#fff" text-anchor="middle" textLength="81" lengthAdjust="spacingAndGlyphs">Franconia-</text>
<text x="82.5" y="1285.5" font-size="15" font-weight="bold" fill="#fff" text-anchor="middle" textLength="84" lengthAdjust="spacingAndGlyphs">Springfield</text>
<text x="82.5" y="1304" font-size="15" font-weight="bold" fill="#fff" text-anchor="middle" textLength="55" lengthAdjust="spacingAndGlyphs">Shuttle</text>
<rect x="323.5" y="1251.5" width="105.0" height="46.0" fill="#4f81c6"/>
<text x="376.0" y="1272.5" font-size="15" font-weight="bold" fill="#fff" text-anchor="middle" textLength="85" lengthAdjust="spacingAndGlyphs">King Street</text>
<text x="376.0" y="1290.5" font-size="15" font-weight="bold" fill="#fff" text-anchor="middle" textLength="55" lengthAdjust="spacingAndGlyphs">Shuttle</text>
<g fill="none" stroke="#000" stroke-width="2.4" stroke-linecap="round" stroke-dasharray="0.1 4.2">
<path d="M1239,270 L1239,329.5 L1252,329.5"/>
<path d="M903,228 L903,236"/>
<path d="M777.5,808 Q779,799 786,798.75 L814,798.75"/>
<path d="M786,818 L795,818.25"/>
</g>
<circle cx="803.3" cy="325.7" r="5" fill="#000" stroke="#fff" stroke-width="1.4"/>
<circle cx="857.9" cy="304.0" r="5" fill="#000" stroke="#fff" stroke-width="1.4"/>
<circle cx="903.0" cy="240.0" r="5" fill="#000" stroke="#fff" stroke-width="1.4"/>
<circle cx="1257.0" cy="329.5" r="5" fill="#000" stroke="#fff" stroke-width="1.4"/>
<circle cx="1228.0" cy="433.0" r="5" fill="#000" stroke="#fff" stroke-width="1.4"/>
<circle cx="1346.7" cy="577.0" r="5" fill="#000" stroke="#fff" stroke-width="1.4"/>
<circle cx="1368.9" cy="591.6" r="5" fill="#000" stroke="#fff" stroke-width="1.4"/>
<circle cx="1387.5" cy="577.0" r="5" fill="#000" stroke="#fff" stroke-width="1.4"/>
<circle cx="468.3" cy="491.7" r="5" fill="#000" stroke="#fff" stroke-width="1.4"/>
<circle cx="477.3" cy="541.0" r="5" fill="#000" stroke="#fff" stroke-width="1.4"/>
<circle cx="493.3" cy="589.3" r="5" fill="#000" stroke="#fff" stroke-width="1.4"/>
<circle cx="502.7" cy="619.3" r="5" fill="#000" stroke="#fff" stroke-width="1.4"/>
<circle cx="212.7" cy="699.0" r="5" fill="#000" stroke="#fff" stroke-width="1.4"/>
<circle cx="773.6" cy="631.7" r="5" fill="#000" stroke="#fff" stroke-width="1.4"/>
<circle cx="774.6" cy="604.1" r="5" fill="#000" stroke="#fff" stroke-width="1.4"/>
<circle cx="754.0" cy="588.4" r="5" fill="#000" stroke="#fff" stroke-width="1.4"/>
<circle cx="732.3" cy="576.4" r="5" fill="#000" stroke="#fff" stroke-width="1.4"/>
<circle cx="723.1" cy="555.9" r="5" fill="#000" stroke="#fff" stroke-width="1.4"/>
<circle cx="747.3" cy="549.5" r="5" fill="#000" stroke="#fff" stroke-width="1.4"/>
<circle cx="716.3" cy="731.1" r="5" fill="#000" stroke="#fff" stroke-width="1.4"/>
<circle cx="734.8" cy="744.3" r="5" fill="#000" stroke="#fff" stroke-width="1.4"/>
<circle cx="784.2" cy="743.8" r="5" fill="#000" stroke="#fff" stroke-width="1.4"/>
<circle cx="787.0" cy="782.5" r="5" fill="#000" stroke="#fff" stroke-width="1.4"/>
<circle cx="799.2" cy="818.2" r="5" fill="#000" stroke="#fff" stroke-width="1.4"/>
<circle cx="818.8" cy="800.0" r="5" fill="#000" stroke="#fff" stroke-width="1.4"/>
<circle cx="772.3" cy="903.0" r="5" fill="#000" stroke="#fff" stroke-width="1.4"/>
<circle cx="772.3" cy="940.8" r="5" fill="#000" stroke="#fff" stroke-width="1.4"/>
<circle cx="1153.4" cy="925.6" r="5" fill="#000" stroke="#fff" stroke-width="1.4"/>
<circle cx="1164.9" cy="959.4" r="5" fill="#000" stroke="#fff" stroke-width="1.4"/>
<circle cx="1169.7" cy="997.5" r="5" fill="#000" stroke="#fff" stroke-width="1.4"/>
<circle cx="1155.0" cy="1037.2" r="5" fill="#000" stroke="#fff" stroke-width="1.4"/>
<circle cx="1144.2" cy="1069.8" r="5" fill="#000" stroke="#fff" stroke-width="1.4"/>
<circle cx="1204.6" cy="1038.3" r="5" fill="#000" stroke="#fff" stroke-width="1.4"/>
<circle cx="1189.3" cy="1081.8" r="5" fill="#000" stroke="#fff" stroke-width="1.4"/>
<path d="M742.2,631.7 L772,651.4 L761.8,684.2 L725.3,684.2 L714.4,651.4 Z" fill="#fff" stroke="#000" stroke-width="3.8" stroke-linejoin="miter"/>
<g><circle cx="742.4" cy="660.5" r="9.6" fill="#ffd520"/><path d="M742.4,650.9 A9.6,9.6 0 0 0 742.4,670.1 Z" fill="#2a7fc9"/><circle cx="742.4" cy="660.5" r="9.6" fill="none" stroke="#000" stroke-width="2.7"/></g>
<g><circle cx="698.6" cy="749.8" r="8.3" fill="#ffd520"/><path d="M698.6,741.5 A8.3,8.3 0 0 0 698.6,758.0999999999999 Z" fill="#2a7fc9"/><circle cx="698.6" cy="749.8" r="8.3" fill="none" stroke="#000" stroke-width="2.7"/></g>
<g><circle cx="777.5" cy="812.5" r="8.3" fill="#ffd520"/><path d="M777.5,804.2 A8.3,8.3 0 0 0 777.5,820.8 Z" fill="#2a7fc9"/><circle cx="777.5" cy="812.5" r="8.3" fill="none" stroke="#000" stroke-width="2.7"/></g>
<g><path d="M756.2,804.1999999999999 L764.8000000000001,812.8 L756.2,821.4 L747.6,812.8 Z" fill="#e31b23" stroke="#fff" stroke-width="2.2"/><path d="M756.2,804.1999999999999 L764.8000000000001,812.8 L756.2,821.4 L747.6,812.8 Z" fill="#e31b23" stroke="#1a1a1a" stroke-width=".7"/><ellipse cx="756.2" cy="812.8" rx="5.8" ry="3.4" fill="#fff" stroke="#1a1a1a" stroke-width=".5"/><text x="756.2" y="814.5" font-size="4.8" font-weight="bold" fill="#000" text-anchor="middle" textLength="8.8" lengthAdjust="spacingAndGlyphs">VRE</text></g>
<g>
<path d="M900,219 L900.00,210.70 A8.3,8.3 0 0 1 907.19,223.15 Z" fill="#2a7fc9"/>
<path d="M900,219 L907.19,223.15 A8.3,8.3 0 0 1 892.81,223.15 Z" fill="#d9d9d9"/>
<path d="M900,219 L892.81,223.15 A8.3,8.3 0 0 1 900.00,210.70 Z" fill="#f7941d"/>
<circle cx="900" cy="219" r="8.3" fill="none" stroke="#000" stroke-width="2.7"/></g>
<g>
<path d="M1272.4,432.3 L1272.40,424.00 A8.3,8.3 0 0 1 1279.59,436.45 Z" fill="#2a7fc9"/>
<path d="M1272.4,432.3 L1279.59,436.45 A8.3,8.3 0 0 1 1265.21,436.45 Z" fill="#d9d9d9"/>
<path d="M1272.4,432.3 L1265.21,436.45 A8.3,8.3 0 0 1 1272.40,424.00 Z" fill="#f7941d"/>
<circle cx="1272.4" cy="432.3" r="8.3" fill="none" stroke="#000" stroke-width="2.7"/></g>
<circle cx="900" cy="193" r="8" fill="#c8202f" stroke="#000" stroke-width="2.7"/>
<circle cx="1239" cy="260.7" r="8.2" fill="#c8202f" stroke="#000" stroke-width="2.7"/>
<g><path d="M1261.6,250.7 L1271.8999999999999,261 L1261.6,271.3 L1251.3,261 Z" fill="#e31b23" stroke="#fff" stroke-width="2.2"/><path d="M1261.6,250.7 L1271.8999999999999,261 L1261.6,271.3 L1251.3,261 Z" fill="#e31b23" stroke="#1a1a1a" stroke-width=".7"/><ellipse cx="1261.6" cy="261" rx="6.9" ry="4.1" fill="#fff" stroke="#1a1a1a" stroke-width=".5"/><text x="1261.6" y="263.1" font-size="5.8" font-weight="bold" fill="#000" text-anchor="middle" textLength="10.5" lengthAdjust="spacingAndGlyphs">VRE</text></g>
<g><text x="1275.5" y="263.2" font-size="10.2" font-weight="bold" font-style="italic" fill="#1b3f94" stroke="#1b3f94" stroke-width="0.50" textLength="29" lengthAdjust="spacingAndGlyphs">MARC</text><path d="M1274.0,264.4 L1305.0,263.6 L1304.0,265.9 L1272.8,266.7 Z" fill="#f26a21"/></g>
<circle cx="1292" cy="551" r="8" fill="#0e9a0e" stroke="#000" stroke-width="2.7"/>
<circle cx="1374.3" cy="732.5" r="8" fill="#0e9a0e" stroke="#000" stroke-width="2.7"/>
<path d="M147.5,1123 L163,1129 L163,1139 L168,1139 L168,1120.5 L197.5,1120.5 L197.5,1151 L207.5,1151 L207.5,1163.5 L147.5,1163.5 Z" fill="#fff" stroke="#000" stroke-width="3.2" stroke-linejoin="miter"/>
<g fill="#fff" stroke="#000" stroke-width="2.8"><rect x="65.5" y="817.5" width="27.5" height="6"/><rect x="42.3" y="821.7" width="55" height="28.8"/><path d="M57.5,821.7 V850.5 M83.3,821.7 V850.5" fill="none"/></g>
<text x="466.6" y="318.3" font-size="21" class="area" text-anchor="start" textLength="72.2" lengthAdjust="spacingAndGlyphs" >Rosslyn</text>
<text x="777.9" y="266.7" font-size="21" class="area" text-anchor="middle" textLength="58.7" lengthAdjust="spacingAndGlyphs" >Foggy</text>
<text x="778.5" y="291.0" font-size="21" class="area" text-anchor="middle" textLength="72.4" lengthAdjust="spacingAndGlyphs" >Bottom</text>
<text x="1105.9" y="225.0" font-size="20.5" class="area" text-anchor="start" textLength="104.3" lengthAdjust="spacingAndGlyphs" >Downtown</text>
<text x="1180.4" y="636.7" font-size="20" class="area" text-anchor="start" textLength="40.4" lengthAdjust="spacingAndGlyphs" >Fort</text>
<text x="1180.4" y="661.0" font-size="20" class="area" text-anchor="start" textLength="71.6" lengthAdjust="spacingAndGlyphs" >McNair</text>
<text x="884.9" y="885.0" font-size="20" class="area" text-anchor="start" textLength="73.0" lengthAdjust="spacingAndGlyphs" >Reagan</text>
<text x="884.9" y="910.0" font-size="20" class="area" text-anchor="start" textLength="84.7" lengthAdjust="spacingAndGlyphs" >National</text>
<text x="885.7" y="934.5" font-size="20" class="area" text-anchor="start" textLength="70.2" lengthAdjust="spacingAndGlyphs" >Airport</text>
<text x="767.8" y="1135.0" font-size="20" class="area" text-anchor="middle" textLength="86.8" lengthAdjust="spacingAndGlyphs" >Potomac</text>
<text x="768.5" y="1159.3" font-size="20" class="area" text-anchor="middle" textLength="45.9" lengthAdjust="spacingAndGlyphs" >Yard</text>
<text x="798.5" y="1394.3" font-size="20" class="area" text-anchor="start" textLength="95.0" lengthAdjust="spacingAndGlyphs" >Old Town</text>
<text x="459.5" y="1294.5" font-size="20" class="area" text-anchor="start" textLength="104.3" lengthAdjust="spacingAndGlyphs" >Alexandria</text>
<text x="237.8" y="979.3" font-size="20" class="area" text-anchor="start" textLength="105.2" lengthAdjust="spacingAndGlyphs" >Shirlington</text>
<text x="19.0" y="1163.3" font-size="20" class="area" text-anchor="start" textLength="87.9" lengthAdjust="spacingAndGlyphs" >West End</text>
<text x="579.8" y="643.3" font-size="28" class="lbl" text-anchor="start" textLength="137.0" lengthAdjust="spacingAndGlyphs" >Pentagon</text>
<text x="914.0" y="280.3" font-size="22" class="lbl" text-anchor="start" textLength="140.8" lengthAdjust="spacingAndGlyphs" >White House</text>
<text x="1102.2" y="377.0" font-size="23.5" class="lbl" text-anchor="start" textLength="123.0" lengthAdjust="spacingAndGlyphs" >Capitol Hill</text>
<text x="1240.8" y="615.0" font-size="23.5" class="lbl" text-anchor="start" textLength="111.4" lengthAdjust="spacingAndGlyphs" >Navy Yard</text>
<text x="1121.5" y="828.7" font-size="22.5" class="lbl" text-anchor="start" textLength="109.3" lengthAdjust="spacingAndGlyphs" >Joint Base</text>
<text x="1121.2" y="855.7" font-size="22.5" class="lbl" text-anchor="start" textLength="113.2" lengthAdjust="spacingAndGlyphs" >Anacostia-</text>
<text x="1120.2" y="883.7" font-size="22.5" class="lbl" text-anchor="start" textLength="77.5" lengthAdjust="spacingAndGlyphs" >Bolling</text>
<text x="445.8" y="526.7" font-size="22.5" class="lbl" text-anchor="end" textLength="184.4" lengthAdjust="spacingAndGlyphs" >Joint Base Myer-</text>
<text x="446.6" y="555.0" font-size="22.5" class="lbl" text-anchor="end" textLength="171.4" lengthAdjust="spacingAndGlyphs" >Henderson Hall</text>
<text x="226.7" y="676.7" font-size="22.5" class="lbl" text-anchor="start" textLength="168.6" lengthAdjust="spacingAndGlyphs" >National Guard</text>
<text x="226.8" y="704.3" font-size="22.5" class="lbl" text-anchor="start" textLength="78.5" lengthAdjust="spacingAndGlyphs" >Bureau</text>
<text x="64.2" y="778.3" font-size="26" class="lbl" text-anchor="middle" textLength="89.9" lengthAdjust="spacingAndGlyphs" >Suffolk</text>
<text x="65.1" y="806.7" font-size="26" class="lbl" text-anchor="middle" textLength="106.7" lengthAdjust="spacingAndGlyphs" >Building</text>
<text x="172.3" y="1079.3" font-size="29" class="lbl" text-anchor="middle" textLength="75.2" lengthAdjust="spacingAndGlyphs" >Mark</text>
<text x="172.5" y="1108.3" font-size="29" class="lbl" text-anchor="middle" textLength="93.7" lengthAdjust="spacingAndGlyphs" >Center</text>
<text x="761.6" y="852.0" font-size="22.5" class="lbl" text-anchor="end" textLength="77.1" lengthAdjust="spacingAndGlyphs" >Crystal</text>
<text x="760.0" y="879.3" font-size="22.5" class="lbl" text-anchor="end" textLength="42.0" lengthAdjust="spacingAndGlyphs" >City</text>
<text x="911.2" y="197.4" font-size="13" class="lbl" text-anchor="start" textLength="96.6" lengthAdjust="spacingAndGlyphs" paint-order="stroke" stroke="#eceded" stroke-width="2" stroke-linejoin="round">Farragut North</text>
<text x="800.2" y="220.0" font-size="13" class="lbl" text-anchor="start" textLength="89.9" lengthAdjust="spacingAndGlyphs" paint-order="stroke" stroke="#eceded" stroke-width="2" stroke-linejoin="round">Farragut West</text>
<text x="1249.8" y="248.5" font-size="13" class="lbl" text-anchor="start" textLength="88.4" lengthAdjust="spacingAndGlyphs" paint-order="stroke" stroke="#eceded" stroke-width="2" stroke-linejoin="round">Union Station</text>
<text x="1264.2" y="417.9" font-size="13" class="lbl" text-anchor="start" textLength="86.9" lengthAdjust="spacingAndGlyphs" paint-order="stroke" stroke="#eceded" stroke-width="2" stroke-linejoin="round">Capitol South</text>
<text x="1291.9" y="520.0" font-size="13" class="lbl" text-anchor="middle" textLength="70.0" lengthAdjust="spacingAndGlyphs" paint-order="stroke" stroke="#eceded" stroke-width="2" stroke-linejoin="round">Navy Yard-</text>
<text x="1292.1" y="536.7" font-size="13" class="lbl" text-anchor="middle" textLength="52.4" lengthAdjust="spacingAndGlyphs" paint-order="stroke" stroke="#eceded" stroke-width="2" stroke-linejoin="round">Ballpark</text>
<text x="1389.8" y="736.0" font-size="13" class="lbl" text-anchor="start" textLength="61.5" lengthAdjust="spacingAndGlyphs" paint-order="stroke" stroke="#eceded" stroke-width="2" stroke-linejoin="round">Anacostia</text>
<text x="688.4" y="745.8" font-size="13" class="lbl" text-anchor="end" textLength="62.1" lengthAdjust="spacingAndGlyphs" paint-order="stroke" stroke="#eceded" stroke-width="2" stroke-linejoin="round">Pentagon</text>
<text x="683.9" y="761.3" font-size="13" class="lbl" text-anchor="end" textLength="25.6" lengthAdjust="spacingAndGlyphs" paint-order="stroke" stroke="#eceded" stroke-width="2" stroke-linejoin="round">City</text>
<text x="672.0" y="814.5" font-size="13" class="lbl" text-anchor="start" textLength="72.0" lengthAdjust="spacingAndGlyphs" paint-order="stroke" stroke="#eceded" stroke-width="2" stroke-linejoin="round">Crystal City</text>
<text x="798.8" y="344.0" font-size="12.6" class="stop" text-anchor="start" textLength="94.0" lengthAdjust="spacingAndGlyphs" >State Department</text>
<text x="867.2" y="307.3" font-size="12.6" class="stop" text-anchor="start" textLength="173.7" lengthAdjust="spacingAndGlyphs" >Office of Personnel Management</text>
<text x="908.8" y="243.0" font-size="12.6" class="stop" text-anchor="start" textLength="156.9" lengthAdjust="spacingAndGlyphs" >New Executive Office Building</text>
<text x="1265.8" y="316.2" font-size="12.6" class="stop" text-anchor="start" textLength="80.2" lengthAdjust="spacingAndGlyphs" >Dirksen Senate</text>
<text x="1265.5" y="332.0" font-size="12.6" class="stop" text-anchor="start" textLength="76.8" lengthAdjust="spacingAndGlyphs" >Office Building</text>
<text x="1226.3" y="452.4" font-size="12.6" class="stop" text-anchor="start" textLength="82.6" lengthAdjust="spacingAndGlyphs" >Rayburn House</text>
<text x="1226.0" y="468.2" font-size="12.6" class="stop" text-anchor="start" textLength="76.8" lengthAdjust="spacingAndGlyphs" >Office Building</text>
<text x="1336.3" y="581.7" font-size="12.6" class="stop" text-anchor="end" textLength="63.2" lengthAdjust="spacingAndGlyphs" >Building 197</text>
<text x="1395.5" y="581.7" font-size="12.6" class="stop" text-anchor="start" textLength="65.6" lengthAdjust="spacingAndGlyphs" >Building 386</text>
<text x="1365.5" y="610.0" font-size="12.6" class="stop" text-anchor="start" textLength="62.1" lengthAdjust="spacingAndGlyphs" >Building 111</text>
<text x="437.5" y="480.7" font-size="12.6" class="stop" text-anchor="start" textLength="59.9" lengthAdjust="spacingAndGlyphs" >Patton Hall</text>
<text x="485.5" y="545.0" font-size="12.6" class="stop" text-anchor="start" textLength="66.8" lengthAdjust="spacingAndGlyphs" >Building 404</text>
<text x="498.8" y="582.3" font-size="12.6" class="stop" text-anchor="start" textLength="63.6" lengthAdjust="spacingAndGlyphs" >Rader Clinic</text>
<text x="508.8" y="613.3" font-size="12.6" class="stop" text-anchor="start" textLength="113.6" lengthAdjust="spacingAndGlyphs" >Henderson Hall-MCX</text>
<text x="202.8" y="703.3" font-size="12.6" class="stop" text-anchor="end" textLength="113.0" lengthAdjust="spacingAndGlyphs" >Arlington Hall Station</text>
<text x="716.0" y="536.3" font-size="12.6" class="stop" text-anchor="start" textLength="33.2" lengthAdjust="spacingAndGlyphs" >Stop 2</text>
<text x="680.2" y="555.9" font-size="12.6" class="stop" text-anchor="start" textLength="33.5" lengthAdjust="spacingAndGlyphs" >Stop 3</text>
<text x="687.2" y="585.8" font-size="12.6" class="stop" text-anchor="start" textLength="34.5" lengthAdjust="spacingAndGlyphs" >Stop 4</text>
<text x="713.0" y="603.3" font-size="12.6" class="stop" text-anchor="start" textLength="33.6" lengthAdjust="spacingAndGlyphs" >Stop 5</text>
<text x="733.9" y="619.3" font-size="12.6" class="stop" text-anchor="start" textLength="33.6" lengthAdjust="spacingAndGlyphs" >Stop 6</text>
<text x="780.0" y="643.6" font-size="12.6" class="stop" text-anchor="start" textLength="33.4" lengthAdjust="spacingAndGlyphs" >Stop 1</text>
<text x="701.6" y="719.4" font-size="12.6" class="stop" text-anchor="start" textLength="33.0" lengthAdjust="spacingAndGlyphs" >Stop 2</text>
<text x="718.9" y="761.3" font-size="12.6" class="stop" text-anchor="start" textLength="33.2" lengthAdjust="spacingAndGlyphs" >Stop 1</text>
<text x="760.5" y="735.4" font-size="12.6" class="stop" text-anchor="start" textLength="123.3" lengthAdjust="spacingAndGlyphs" >Crystal Gateway North</text>
<text x="777.7" y="786.5" font-size="12.6" class="stop" text-anchor="end" textLength="76.9" lengthAdjust="spacingAndGlyphs" >Jefferson Plaza</text>
<text x="826.5" y="802.0" font-size="12.6" class="stop" text-anchor="start" textLength="61.4" lengthAdjust="spacingAndGlyphs" >Crystal City</text>
<text x="812.0" y="825.0" font-size="12.6" class="stop" text-anchor="start" textLength="73.7" lengthAdjust="spacingAndGlyphs" >Crystal Mall 3</text>
<text x="761.9" y="907.4" font-size="12.6" class="stop" text-anchor="end" textLength="123.0" lengthAdjust="spacingAndGlyphs" >Taylor &amp; Polk Buildings</text>
<text x="761.8" y="945" font-size="12.6" class="stop" text-anchor="end" textLength="100.6" lengthAdjust="spacingAndGlyphs">S Clark St &amp; 27<tspan font-size="7" dy="-4.5">th</tspan><tspan dy="4.5"> St</tspan></text>
<text x="1141.9" y="928.4" font-size="12.6" class="stop" text-anchor="end" textLength="61.6" lengthAdjust="spacingAndGlyphs" >Building 94</text>
<text x="1154.0" y="963.7" font-size="12.6" class="stop" text-anchor="end" textLength="75.4" lengthAdjust="spacingAndGlyphs" >Building 399A</text>
<text x="1160.4" y="1001.8" font-size="12.6" class="stop" text-anchor="end" textLength="65.4" lengthAdjust="spacingAndGlyphs" >Building 361</text>
<text x="1145.7" y="1041.5" font-size="12.6" class="stop" text-anchor="end" textLength="58.9" lengthAdjust="spacingAndGlyphs" >Building 20</text>
<text x="1135.4" y="1075.3" font-size="12.6" class="stop" text-anchor="end" textLength="71.9" lengthAdjust="spacingAndGlyphs" >Building 5681</text>
<text x="1216.3" y="1044.2" font-size="12.6" class="stop" text-anchor="start" textLength="86.8" lengthAdjust="spacingAndGlyphs" >Building 16-MPF</text>
<text x="1201.1" y="1088.8" font-size="12.6" class="stop" text-anchor="start" textLength="105.3" lengthAdjust="spacingAndGlyphs" >Building 1300-MDG</text>
<text transform="translate(961.0,693.0) rotate(64)" font-size="16.5" fill="#45639b" font-weight="normal" textLength="118.0" lengthAdjust="spacingAndGlyphs">Potomac River</text>
<text transform="translate(1204.0,761.0) rotate(-51.5)" font-size="13.5" fill="#45639b" font-weight="normal" textLength="104.0" lengthAdjust="spacingAndGlyphs">Anacostia River</text>
<text transform="translate(397.5,195.5) rotate(6.6)" font-size="16" fill="#97989c" font-weight="normal" textLength="100.0" lengthAdjust="spacingAndGlyphs">Washington DC</text>
<text transform="translate(386.5,222.0) rotate(7.5)" font-size="16" fill="#97989c" font-weight="normal" textLength="113.0" lengthAdjust="spacingAndGlyphs">Arlington County</text>
<text transform="translate(675.5,988.5) rotate(24)" font-size="15.5" fill="#97989c" font-weight="normal" textLength="114.0" lengthAdjust="spacingAndGlyphs">Arlington County</text>
<text transform="translate(679.0,1026.0) rotate(29.6)" font-size="15.5" fill="#97989c" font-weight="normal" textLength="71.0" lengthAdjust="spacingAndGlyphs">Alexandria</text>
<text transform="translate(59.0,1047.0) rotate(-20)" font-size="15" fill="#97989c" font-weight="normal" textLength="92.0" lengthAdjust="spacingAndGlyphs">Fairfax County</text>
<text transform="translate(79.0,1068.5) rotate(-20)" font-size="15" fill="#97989c" font-weight="normal" textLength="67.0" lengthAdjust="spacingAndGlyphs">Alexandria</text>
<text transform="translate(1323.0,1284.0) rotate(-42.7)" font-size="14.5" fill="#97989c" font-weight="normal" textLength="100.0" lengthAdjust="spacingAndGlyphs">Washington DC</text>
<text transform="translate(1325.0,1323.0) rotate(-45)" font-size="14.5" fill="#97989c" font-weight="normal" textLength="152.0" lengthAdjust="spacingAndGlyphs">Prince George’s County</text>
<g><circle cx="1407" cy="1353.2" r="30.4" fill="none" stroke="#000" stroke-width="2.7"/><path d="M1407.4,1335 L1418,1367 L1407.2,1359.8 L1396.3,1367 Z" fill="#fff" stroke="#000" stroke-width="2.5" stroke-linejoin="miter"/><text x="1407.3" y="1377" font-size="12" font-weight="bold" text-anchor="middle" fill="#000">N</text></g>
<rect x="6.1" y="570.2" width="188.6" height="74.8" fill="#c5c5c5" stroke="#8a8a8a" stroke-width="1.2"/>
<text x="11.2" y="591.4" font-size="23.5" class="lbl" text-anchor="start" textLength="99.7" lengthAdjust="spacingAndGlyphs" >to DHHQ</text>
<path d="M18.3,599.3 V607 M18.3,621.5 V623 M18.3,625 V626.5" stroke="#006845" stroke-width="5" fill="none"/>
<circle cx="18.3" cy="612.5" r="5" fill="#000" stroke="#fff" stroke-width="1.4"/>
<circle cx="18.3" cy="634.2" r="5" fill="#000" stroke="#fff" stroke-width="1.4"/>
<text x="30.9" y="616.2" font-size="12.6" class="stop" text-anchor="start" textLength="156.8" lengthAdjust="spacingAndGlyphs" >Defense Health Headquarters</text>
<text x="30.6" y="638.5" font-size="12.6" class="stop" text-anchor="start" textLength="74.1" lengthAdjust="spacingAndGlyphs" >Gatehouse Rd</text>
<rect x="98.3" y="1350.2" width="272.7" height="51.3" fill="#c5c5c5" stroke="#8a8a8a" stroke-width="1.2"/>
<text x="103.0" y="1369.7" font-size="23.5" class="lbl" text-anchor="start" textLength="266.4" lengthAdjust="spacingAndGlyphs" >to Franconia-Springfield</text>
<path d="M110.6,1376 V1385" stroke="#7c0000" stroke-width="5" fill="none"/>
<circle cx="110.6" cy="1390.9" r="5" fill="#000" stroke="#fff" stroke-width="1.4"/>
<text x="122.8" y="1392.7" font-size="12.6" class="stop" text-anchor="start" textLength="153.0" lengthAdjust="spacingAndGlyphs" >Franconia-Springfield Station</text>
<g><path d="M290.2,1378.1000000000001 L298.8,1386.7 L290.2,1395.3 L281.59999999999997,1386.7 Z" fill="#e31b23" stroke="#fff" stroke-width="2.2"/><path d="M290.2,1378.1000000000001 L298.8,1386.7 L290.2,1395.3 L281.59999999999997,1386.7 Z" fill="#e31b23" stroke="#1a1a1a" stroke-width=".7"/><ellipse cx="290.2" cy="1386.7" rx="5.8" ry="3.4" fill="#fff" stroke="#1a1a1a" stroke-width=".5"/><text x="290.2" y="1388.4" font-size="4.8" font-weight="bold" fill="#000" text-anchor="middle" textLength="8.8" lengthAdjust="spacingAndGlyphs">VRE</text></g>
<circle cx="311.5" cy="1386.7" r="8" fill="#2a7fc9" stroke="#000" stroke-width="2.7"/>
<rect x="513.3" y="1350.2" width="207.2" height="51.3" fill="#c5c5c5" stroke="#8a8a8a" stroke-width="1.2"/>
<text x="518.4" y="1369.7" font-size="23.5" class="lbl" text-anchor="start" textLength="150.9" lengthAdjust="spacingAndGlyphs" >to King Street</text>
<path d="M525,1376 V1385" stroke="#4f81c6" stroke-width="5" fill="none"/>
<circle cx="525.0" cy="1390.2" r="5" fill="#000" stroke="#fff" stroke-width="1.4"/>
<text x="537.2" y="1392.0" font-size="12.6" class="stop" text-anchor="start" textLength="134.2" lengthAdjust="spacingAndGlyphs" >King St-Old Town Station</text>
<g><path d="M685.1,1378.1000000000001 L693.7,1386.7 L685.1,1395.3 L676.5,1386.7 Z" fill="#e31b23" stroke="#fff" stroke-width="2.2"/><path d="M685.1,1378.1000000000001 L693.7,1386.7 L685.1,1395.3 L676.5,1386.7 Z" fill="#e31b23" stroke="#1a1a1a" stroke-width=".7"/><ellipse cx="685.1" cy="1386.7" rx="5.8" ry="3.4" fill="#fff" stroke="#1a1a1a" stroke-width=".5"/><text x="685.1" y="1388.4" font-size="4.8" font-weight="bold" fill="#000" text-anchor="middle" textLength="8.8" lengthAdjust="spacingAndGlyphs">VRE</text></g>
<g><circle cx="706.4" cy="1386.7" r="8.3" fill="#ffd520"/><path d="M706.4,1378.4 A8.3,8.3 0 0 0 706.4,1395.0 Z" fill="#2a7fc9"/><circle cx="706.4" cy="1386.7" r="8.3" fill="none" stroke="#000" stroke-width="2.7"/></g>
<rect x="14.6" y="133.1" width="312.2" height="269.6" fill="#fff" stroke="#b8b9ba" stroke-width="1.6"/>
<text x="25.1" y="161.1" font-size="21.5" class="lbl" text-anchor="start" textLength="79.9" lengthAdjust="spacingAndGlyphs" >Legend</text>
<path d="M36.1,185.9 H106.6" stroke="#f15a22" stroke-width="5"/>
<rect x="51.2" y="173.3" width="39.1" height="25.6" fill="#f15a22"/>
<text x="70.8" y="193.3" font-size="20" font-weight="bold" fill="#fff" text-anchor="middle">2</text>
<path d="M36.1,225.9 H106.6" stroke="#683614" stroke-width="5.5" stroke-dasharray="1.6 1.5"/>
<rect x="51.2" y="212.9" width="39.1" height="25.8" fill="#683614"/>
<text x="70.8" y="233.0" font-size="20" font-weight="bold" fill="#fff" text-anchor="middle">6</text>
<circle cx="43.2" cy="266.5" r="5.6" fill="#000"/>
<text x="54.8" y="270.4" font-size="12.6" font-style="italic" fill="#555" textLength="59.9" lengthAdjust="spacingAndGlyphs">Patton Hall</text>
<path d="M36.1,304 H106.6" stroke="#cbcccd" stroke-width="6"/><path d="M36.1,304 H106.6" stroke="#e4e4e5" stroke-width="3" stroke-dasharray="1.3 1.3"/><circle cx="70.4" cy="304" r="6.3" fill="#c9cacb" stroke="#a9aaab"/>
<g><circle cx="71.5" cy="342.2" r="9.3" fill="#ffd520"/><path d="M71.5,332.9 A9.3,9.3 0 0 0 71.5,351.5 Z" fill="#2a7fc9"/><circle cx="71.5" cy="342.2" r="9.3" fill="none" stroke="#000" stroke-width="2.7"/></g>
<g><path d="M52.8,369.7 L63.3,380.2 L52.8,390.7 L42.3,380.2 Z" fill="#e31b23" stroke="#fff" stroke-width="2.2"/><path d="M52.8,369.7 L63.3,380.2 L52.8,390.7 L42.3,380.2 Z" fill="#e31b23" stroke="#1a1a1a" stroke-width=".7"/><ellipse cx="52.8" cy="380.2" rx="7.0" ry="4.2" fill="#fff" stroke="#1a1a1a" stroke-width=".5"/><text x="52.8" y="382.3" font-size="5.9" font-weight="bold" fill="#000" text-anchor="middle" textLength="10.7" lengthAdjust="spacingAndGlyphs">VRE</text></g>
<g><text x="72" y="384.2" font-size="13.4" font-weight="bold" font-style="italic" fill="#1b3f94" stroke="#1b3f94" stroke-width="0.66" textLength="38" lengthAdjust="spacingAndGlyphs">MARC</text><path d="M70.0,385.8 L110.7,384.7 L109.3,387.7 L68.5,388.8 Z" fill="#f26a21"/></g>
<text x="127.2" y="192" font-size="15.5" fill="#111" textLength="100.6" lengthAdjust="spacingAndGlyphs">Shuttle Route</text>
<text x="126.4" y="230.6" font-size="15.5" fill="#111" textLength="113.6" lengthAdjust="spacingAndGlyphs">Limited Service</text>
<text x="127.2" y="271.6" font-size="15.5" fill="#111" textLength="116.0" lengthAdjust="spacingAndGlyphs">Scheduled Stop</text>
<text x="126.4" y="307.3" font-size="15.5" fill="#111" textLength="91.2" lengthAdjust="spacingAndGlyphs">Metro Route</text>
<text x="126.9" y="345.9" font-size="15.5" fill="#111" textLength="186.5" lengthAdjust="spacingAndGlyphs">Connecting Metro Station</text>
<text x="126.9" y="384.2" font-size="15.5" fill="#111" textLength="173.0" lengthAdjust="spacingAndGlyphs">Connecting Rail Service</text>
</g>
<!-- header -->
<rect x="0" y="0" width="1920" height="125" fill="#000"/>
<g font-size="62" font-weight="bold" fill="#fff" stroke="#fff" stroke-width=".5">
<text x="15.2" y="88.1" textLength="361.8" lengthAdjust="spacingAndGlyphs">DEPARTMENT</text>
<text x="393.5" y="88.1" textLength="77.1" lengthAdjust="spacingAndGlyphs">OF</text>
<text x="490.4" y="88.1" textLength="238.6" lengthAdjust="spacingAndGlyphs">DEFENSE</text>
<text x="746.9" y="88.1" textLength="162.1" lengthAdjust="spacingAndGlyphs">(DoD)</text>
<text x="928.6" y="88.1" textLength="216.2" lengthAdjust="spacingAndGlyphs">SHUTTLE</text>
<text x="1163.4" y="88.1" textLength="206.7" lengthAdjust="spacingAndGlyphs">SYSTEM</text>
<text x="1384.9" y="88.1" textLength="131.2" lengthAdjust="spacingAndGlyphs">MAP</text>
</g>
<!-- panel -->
<rect x="1464" y="125" width="456" height="1279" fill="#fff"/>
<rect x="0" y="125" width="1920" height="1.8" fill="#fff"/>
<rect x="1464" y="126.8" width="1.5" height="1278" fill="#b9b9b9"/>
<text x="1472.8" y="163.3" font-size="30.5" fill="#111" stroke="#111" stroke-width="1.5" stroke-linejoin="round" textLength="277.7" lengthAdjust="spacingAndGlyphs">Route Information</text>
<text x="1472.4" y="194.7" font-size="22" fill="#111" stroke="#111" stroke-width=".75" textLength="359.4" lengthAdjust="spacingAndGlyphs">Pentagon Transit Center Routes</text>
<text x="1473" y="220" font-size="11.5" font-weight="bold" fill="#111">Route</text>
<text x="1644" y="218.5" font-size="11.5" font-weight="bold" fill="#111" text-anchor="middle">Bus Bay</text>
<text x="1741" y="218.5" font-size="11.5" font-weight="bold" fill="#111" text-anchor="middle">Frequency &amp; Service</text>
<text x="1860" y="218.5" font-size="11.5" font-weight="bold" fill="#111" text-anchor="middle">Dispatcher #</text>
<text x="1912.5" y="928.5" font-size="11.3" font-style="italic" fill="#111" text-anchor="end" textLength="376" lengthAdjust="spacingAndGlyphs">*Go to dhhqshuttle.ridesystems.net/routes for the DHHQ Shuttle Tracker</text>
<text x="1472.8" y="958.5" font-size="22" fill="#111" stroke="#111" stroke-width=".75" textLength="320.4" lengthAdjust="spacingAndGlyphs">Mark Center Station Routes</text>
<text x="1473.5" y="1244" font-size="13" font-weight="bold" fill="#111" textLength="384.7" lengthAdjust="spacingAndGlyphs">Visit our website for shuttle schedules and service updates:</text>
<text x="1558.5" y="1277" font-size="14" fill="#111" textLength="203" lengthAdjust="spacingAndGlyphs">www.whs.mil/DoDTransportation</text>
<text x="1558.5" y="1318" font-size="14" fill="#111" textLength="277.5" lengthAdjust="spacingAndGlyphs">www.whs.mil/Services-and-information/DoD-</text>
<text x="1558.5" y="1335.5" font-size="14" fill="#111">Transportation-Services</text>
<text x="1474" y="1364.5" font-size="10.3" fill="#222" textLength="407" lengthAdjust="spacingAndGlyphs">This system map is provided for reference and routes are subject to change or delays</text>
<text x="1474" y="1378" font-size="10.3" fill="#222" textLength="330" lengthAdjust="spacingAndGlyphs">due to changes in Health Protection Condition Levels (HPCON), Force</text>
<text x="1474" y="1391.5" font-size="10.3" fill="#222" textLength="247" lengthAdjust="spacingAndGlyphs">Protection Conditions (FPCON), weather, and traffic.</text>
<text x="1913" y="1399" font-size="11.5" font-weight="bold" fill="#111" text-anchor="end">07.2025</text>
<g id="panel" font-family="Liberation Sans, sans-serif">
<rect x="1474" y="226.5" width="141.8" height="58.5" fill="#f15a22"/>
<rect x="1615.5" y="226.5" width="59.3" height="58.5" fill="#f47b4e"/>
<rect x="1674.5" y="226.5" width="132.8" height="58.5" fill="#f9bda7"/>
<rect x="1807" y="226.5" width="106.3" height="58.5" fill="#fcded3"/>
<text x="1478" y="245.8" fill="#fff" font-size="11.3" font-weight="bold">Route 2</text>
<text x="1478" y="260.8" fill="#fff" font-size="11.3" font-weight="bold">State Dept - OPM -</text>
<text x="1478" y="275.8" fill="#fff" font-size="11.3" font-weight="bold">NEOB</text>
<text x="1645.0" y="260.8" fill="#1a1a1a" font-size="11.6" text-anchor="middle" class="sb">L9</text>
<text x="1740.8" y="253.4" fill="#1a1a1a" font-size="12.2" text-anchor="middle" class="sb">60 minutes</text>
<text x="1740.8" y="268.1" fill="#1a1a1a" font-size="12.2" text-anchor="middle" class="sb">7:30am - 5:10pm</text>
<text x="1860.0" y="260.8" fill="#111" font-size="12.2" text-anchor="middle" class="sb">703-693-8665</text>
<rect x="1474" y="295" width="141.8" height="53.5" fill="#ffc20e"/>
<rect x="1615.5" y="295" width="59.3" height="53.5" fill="#ffce3e"/>
<rect x="1674.5" y="295" width="132.8" height="53.5" fill="#ffdd7a"/>
<rect x="1807" y="295" width="106.3" height="53.5" fill="#fff3cf"/>
<text x="1478" y="319.2" fill="#000" font-size="11.3" font-weight="bold">Route 3</text>
<text x="1478" y="334.2" fill="#000" font-size="11.3" font-weight="bold">Crystal City</text>
<text x="1645.0" y="326.8" fill="#1a1a1a" font-size="11.6" text-anchor="middle" class="sb">L10</text>
<text x="1740.8" y="319.4" fill="#1a1a1a" font-size="12.2" text-anchor="middle" class="sb">30 minutes</text>
<text x="1740.8" y="334.1" fill="#1a1a1a" font-size="12.2" text-anchor="middle" class="sb">7:30am - 6:04pm</text>
<text x="1860.0" y="326.8" fill="#111" font-size="12.2" text-anchor="middle" class="sb">703-693-8665</text>
<rect x="1474" y="358" width="141.8" height="53.5" fill="#006845"/>
<rect x="1615.5" y="358" width="59.3" height="53.5" fill="#33866a"/>
<rect x="1674.5" y="358" width="132.8" height="53.5" fill="#99c3b5"/>
<rect x="1807" y="358" width="106.3" height="53.5" fill="#cce1da"/>
<text x="1478" y="374.8" fill="#fff" font-size="11.3" font-weight="bold">DHHQ</text>
<text x="1478" y="389.8" fill="#fff" font-size="11.3" font-weight="bold">Meeting / Commuter</text>
<text x="1478" y="404.8" fill="#fff" font-size="11.3" font-weight="bold">Shuttle</text>
<text x="1645.0" y="389.8" fill="#1a1a1a" font-size="11.6" text-anchor="middle" class="sb">L9</text>
<text x="1740.8" y="382.4" fill="#1a1a1a" font-size="12.2" text-anchor="middle" class="sb">20 - 35 minutes</text>
<text x="1740.8" y="397.1" fill="#1a1a1a" font-size="12.2" text-anchor="middle" class="sb">6:00am - 7:55pm</text>
<text x="1860.0" y="389.8" fill="#111" font-size="12.2" text-anchor="middle" class="sb">703-681-9532*</text>
<rect x="1474" y="421" width="141.8" height="53" fill="#683614"/>
<rect x="1615.5" y="421" width="59.3" height="53" fill="#865e43"/>
<rect x="1674.5" y="421" width="132.8" height="53" fill="#a48672"/>
<rect x="1807" y="421" width="106.3" height="53" fill="#e1d7d0"/>
<text x="1478" y="437.5" fill="#fff" font-size="11.3" font-weight="bold">Route 6</text>
<text x="1478" y="452.5" fill="#fff" font-size="11.3" font-weight="bold">National Guard</text>
<text x="1478" y="467.5" fill="#fff" font-size="11.3" font-weight="bold">Bureau</text>
<text x="1645.0" y="452.5" fill="#1a1a1a" font-size="11.6" text-anchor="middle" class="sb">L11</text>
<text x="1740.8" y="445.1" fill="#1a1a1a" font-size="12.2" text-anchor="middle" class="sb">Varies</text>
<text x="1740.8" y="459.9" fill="#1a1a1a" font-size="12.2" text-anchor="middle" class="sb">5:15am - 7:10pm</text>
<text x="1860.0" y="452.5" fill="#111" font-size="12.2" text-anchor="middle" class="sb">703-607-1111</text>
<rect x="1474" y="483.5" width="141.8" height="53.5" fill="#2e2d88"/>
<rect x="1615.5" y="483.5" width="59.3" height="53.5" fill="#5857a0"/>
<rect x="1674.5" y="483.5" width="132.8" height="53.5" fill="#8281b8"/>
<rect x="1807" y="483.5" width="106.3" height="53.5" fill="#d5d5e7"/>
<text x="1478" y="507.8" fill="#fff" font-size="11.3" font-weight="bold">Route 7</text>
<text x="1478" y="522.8" fill="#fff" font-size="11.3" font-weight="bold">Capitol Hill</text>
<text x="1645.0" y="515.2" fill="#1a1a1a" font-size="11.6" text-anchor="middle" class="sb">L10</text>
<text x="1740.8" y="507.9" fill="#1a1a1a" font-size="12.2" text-anchor="middle" class="sb">30 minutes</text>
<text x="1740.8" y="522.6" fill="#1a1a1a" font-size="12.2" text-anchor="middle" class="sb">9:00am - 5:41pm</text>
<text x="1860.0" y="515.2" fill="#111" font-size="12.2" text-anchor="middle" class="sb">571-372-7124</text>
<rect x="1474" y="547" width="141.8" height="52.5" fill="#6d8629"/>
<rect x="1615.5" y="547" width="59.3" height="52.5" fill="#94a763"/>
<rect x="1674.5" y="547" width="132.8" height="52.5" fill="#b6c294"/>
<rect x="1807" y="547" width="106.3" height="52.5" fill="#e2e7d4"/>
<text x="1478" y="570.8" fill="#fff" font-size="11.3" font-weight="bold">Route 8</text>
<text x="1478" y="585.8" fill="#fff" font-size="11.3" font-weight="bold">Washington Navy Yard</text>
<text x="1645.0" y="578.2" fill="#1a1a1a" font-size="11.6" text-anchor="middle" class="sb">L9</text>
<text x="1740.8" y="570.9" fill="#1a1a1a" font-size="12.2" text-anchor="middle" class="sb">60 minutes</text>
<text x="1740.8" y="585.6" fill="#1a1a1a" font-size="12.2" text-anchor="middle" class="sb">8:00am - 3:00pm</text>
<text x="1860.0" y="578.2" fill="#111" font-size="12.2" text-anchor="middle" class="sb">202-284-4130</text>
<rect x="1474" y="609.5" width="141.8" height="53.5" fill="#2b7b7b"/>
<rect x="1615.5" y="609.5" width="59.3" height="53.5" fill="#609c9c"/>
<rect x="1674.5" y="609.5" width="132.8" height="53.5" fill="#95bdbd"/>
<rect x="1807" y="609.5" width="106.3" height="53.5" fill="#d5e5e5"/>
<text x="1478" y="633.8" fill="#fff" font-size="11.3" font-weight="bold">Route 9</text>
<text x="1478" y="648.8" fill="#fff" font-size="11.3" font-weight="bold">Fort Myer Flyer</text>
<text x="1645.0" y="641.2" fill="#1a1a1a" font-size="11.6" text-anchor="middle" class="sb">L10</text>
<text x="1740.8" y="626.5" fill="#1a1a1a" font-size="12.2" text-anchor="middle" class="sb">Varies</text>
<text x="1740.8" y="641.2" fill="#1a1a1a" font-size="12.2" text-anchor="middle" class="sb">5:48am - 8:25am</text>
<text x="1740.8" y="656.0" fill="#1a1a1a" font-size="12.2" text-anchor="middle" class="sb">3:30pm - 6:02pm</text>
<text x="1860.0" y="641.2" fill="#111" font-size="12.2" text-anchor="middle" class="sb">703-693-8665</text>
<rect x="1474" y="672.5" width="141.8" height="53.5" fill="#7f0f6f"/>
<rect x="1615.5" y="672.5" width="59.3" height="53.5" fill="#993f8c"/>
<rect x="1674.5" y="672.5" width="132.8" height="53.5" fill="#c28cba"/>
<rect x="1807" y="672.5" width="106.3" height="53.5" fill="#e5cfe2"/>
<text x="1478" y="689.2" fill="#fff" font-size="11.3" font-weight="bold">Route 10N</text>
<text x="1478" y="704.2" fill="#fff" font-size="11.3" font-weight="bold">Pentagon Circulator</text>
<text x="1478" y="719.2" fill="#fff" font-size="11.3" font-weight="bold">North</text>
<text x="1645.0" y="704.2" fill="#1a1a1a" font-size="11.6" text-anchor="middle" class="sb">U8</text>
<text x="1740.8" y="696.9" fill="#1a1a1a" font-size="12.2" text-anchor="middle" class="sb">10 minutes</text>
<text x="1740.8" y="711.6" fill="#1a1a1a" font-size="12.2" text-anchor="middle" class="sb">6:00am - 6:00pm</text>
<text x="1860.0" y="704.2" fill="#111" font-size="12.2" text-anchor="middle" class="sb">571-372-7124</text>
<rect x="1474" y="735.5" width="141.8" height="53.5" fill="#d41e5a"/>
<rect x="1615.5" y="735.5" width="59.3" height="53.5" fill="#dd4b7b"/>
<rect x="1674.5" y="735.5" width="132.8" height="53.5" fill="#e5789c"/>
<rect x="1807" y="735.5" width="106.3" height="53.5" fill="#f6d2de"/>
<text x="1478" y="752.2" fill="#fff" font-size="11.3" font-weight="bold">Route 10S</text>
<text x="1478" y="767.2" fill="#fff" font-size="11.3" font-weight="bold">Pentagon Circulator</text>
<text x="1478" y="782.2" fill="#fff" font-size="11.3" font-weight="bold">South</text>
<text x="1645.0" y="767.2" fill="#1a1a1a" font-size="11.6" text-anchor="middle" class="sb">U8</text>
<text x="1740.8" y="759.9" fill="#1a1a1a" font-size="12.2" text-anchor="middle" class="sb">10 minutes</text>
<text x="1740.8" y="774.6" fill="#1a1a1a" font-size="12.2" text-anchor="middle" class="sb">6:05am - 6:04pm</text>
<text x="1860.0" y="767.2" fill="#111" font-size="12.2" text-anchor="middle" class="sb">571-372-7124</text>
<rect x="1474" y="798.5" width="141.8" height="53.5" fill="#1088ce"/>
<rect x="1615.5" y="798.5" width="59.3" height="53.5" fill="#40a0d8"/>
<rect x="1674.5" y="798.5" width="132.8" height="53.5" fill="#70b8e2"/>
<rect x="1807" y="798.5" width="106.3" height="53.5" fill="#cfe7f5"/>
<text x="1478" y="815.2" fill="#fff" font-size="11.3" font-weight="bold">Route 11</text>
<text x="1478" y="830.2" fill="#fff" font-size="11.3" font-weight="bold">Joint Base Anacostia-</text>
<text x="1478" y="845.2" fill="#fff" font-size="11.3" font-weight="bold">Bolling</text>
<text x="1645.0" y="830.2" fill="#1a1a1a" font-size="11.6" text-anchor="middle" class="sb">L9</text>
<text x="1740.8" y="822.9" fill="#1a1a1a" font-size="12.2" text-anchor="middle" class="sb">90 minutes</text>
<text x="1740.8" y="837.6" fill="#1a1a1a" font-size="12.2" text-anchor="middle" class="sb">8:00am - 2:25pm</text>
<text x="1860.0" y="830.2" fill="#111" font-size="12.2" text-anchor="middle" class="sb">202-284-3038</text>
<rect x="1474" y="861" width="141.8" height="53.5" fill="#ae5511"/>
<rect x="1615.5" y="861" width="59.3" height="53.5" fill="#be7741"/>
<rect x="1674.5" y="861" width="132.8" height="53.5" fill="#ce9970"/>
<rect x="1807" y="861" width="106.3" height="53.5" fill="#efddcf"/>
<text x="1478" y="885.2" fill="#fff" font-size="11.3" font-weight="bold">Suffolk Express</text>
<text x="1478" y="900.2" fill="#fff" font-size="11.3" font-weight="bold">Suffolk Building</text>
<text x="1645.0" y="892.8" fill="#1a1a1a" font-size="11.6" text-anchor="middle" class="sb">L11</text>
<text x="1740.8" y="885.4" fill="#1a1a1a" font-size="12.2" text-anchor="middle" class="sb">30 minutes</text>
<text x="1740.8" y="900.1" fill="#1a1a1a" font-size="12.2" text-anchor="middle" class="sb">6:15am - 6:45pm</text>
<text x="1860.0" y="892.8" fill="#111" font-size="12.2" text-anchor="middle" class="sb">571-372-7124</text>
<rect x="1474" y="968" width="141.8" height="53.5" fill="#e01a22"/>
<rect x="1615.5" y="968" width="59.3" height="53.5" fill="#e6484e"/>
<rect x="1674.5" y="968" width="132.8" height="53.5" fill="#ec767a"/>
<rect x="1807" y="968" width="106.3" height="53.5" fill="#f9d1d3"/>
<text x="1478" y="992.2" fill="#fff" font-size="11.3" font-weight="bold">A90</text>
<text x="1478" y="1007.2" fill="#fff" font-size="11.3" font-weight="bold">Pentagon - Mark Center</text>
<text x="1645.0" y="999.8" fill="#1a1a1a" font-size="11.6" text-anchor="middle" class="sb">MC 1</text>
<text x="1740.8" y="992.4" fill="#1a1a1a" font-size="12.2" text-anchor="middle" class="sb">10 - 15 minutes</text>
<text x="1740.8" y="1007.1" fill="#1a1a1a" font-size="12.2" text-anchor="middle" class="sb">5:40am - 6:58pm</text>
<text x="1860.0" y="999.8" fill="#111" font-size="12.2" text-anchor="middle" class="sb">571-372-7124</text>
<rect x="1474" y="1032" width="141.8" height="58.5" fill="#7c0000"/>
<rect x="1615.5" y="1032" width="59.3" height="58.5" fill="#963333"/>
<rect x="1674.5" y="1032" width="132.8" height="58.5" fill="#b06666"/>
<rect x="1807" y="1032" width="106.3" height="58.5" fill="#e5cccc"/>
<text x="1478" y="1051.2" fill="#fff" font-size="11.3" font-weight="bold">Franconia-Springfield</text>
<text x="1478" y="1066.2" fill="#fff" font-size="11.3" font-weight="bold">Shuttle</text>
<text x="1478" y="1081.2" fill="#fff" font-size="11.3" font-weight="bold">Mark Center - Metro/VRE</text>
<text x="1645.0" y="1066.2" fill="#1a1a1a" font-size="11.6" text-anchor="middle" class="sb">MC 5</text>
<text x="1740.8" y="1051.5" fill="#1a1a1a" font-size="12.2" text-anchor="middle" class="sb">15 -20 minutes</text>
<text x="1740.8" y="1066.2" fill="#1a1a1a" font-size="12.2" text-anchor="middle" class="sb">5:33am - 9:35am</text>
<text x="1740.8" y="1081.0" fill="#1a1a1a" font-size="12.2" text-anchor="middle" class="sb">3:20pm - 7:07pm</text>
<text x="1860.0" y="1066.2" fill="#111" font-size="12.2" text-anchor="middle" class="sb">571-372-7124</text>
<rect x="1474" y="1100.5" width="141.8" height="53.5" fill="#6b3f99"/>
<rect x="1615.5" y="1100.5" width="59.3" height="53.5" fill="#8965ad"/>
<rect x="1674.5" y="1100.5" width="132.8" height="53.5" fill="#a68cc2"/>
<rect x="1807" y="1100.5" width="106.3" height="53.5" fill="#e1d9eb"/>
<text x="1478" y="1124.8" fill="#fff" font-size="11.3" font-weight="bold">Suffolk Building -</text>
<text x="1478" y="1139.8" fill="#fff" font-size="11.3" font-weight="bold">Mark Center Shuttle</text>
<text x="1645.0" y="1132.2" fill="#1a1a1a" font-size="11.6" text-anchor="middle" class="sb">MC 5</text>
<text x="1740.8" y="1124.9" fill="#1a1a1a" font-size="12.2" text-anchor="middle" class="sb">30 minutes</text>
<text x="1740.8" y="1139.6" fill="#1a1a1a" font-size="12.2" text-anchor="middle" class="sb">10:00am - 2:30pm</text>
<text x="1860.0" y="1132.2" fill="#111" font-size="12.2" text-anchor="middle" class="sb">703-693-8665</text>
<rect x="1474" y="1164" width="141.8" height="59" fill="#4f81c6"/>
<rect x="1615.5" y="1164" width="59.3" height="59" fill="#729ad1"/>
<rect x="1674.5" y="1164" width="132.8" height="59" fill="#95b3dd"/>
<rect x="1807" y="1164" width="106.3" height="59" fill="#dce6f4"/>
<text x="1478" y="1191.0" fill="#fff" font-size="11.3" font-weight="bold">King Street Shuttle</text>
<text x="1478" y="1206.0" fill="#fff" font-size="11.3" font-weight="bold">Mark Center - Metro/VRE</text>
<text x="1645.0" y="1198.5" fill="#1a1a1a" font-size="11.6" text-anchor="middle" class="sb">MC 4</text>
<text x="1740.8" y="1183.8" fill="#1a1a1a" font-size="12.2" text-anchor="middle" class="sb">Varies</text>
<text x="1740.8" y="1198.5" fill="#1a1a1a" font-size="12.2" text-anchor="middle" class="sb">6:10am - 8:55am</text>
<text x="1740.8" y="1213.2" fill="#1a1a1a" font-size="12.2" text-anchor="middle" class="sb">3:03pm - 5:38pm</text>
<text x="1860.0" y="1198.5" fill="#111" font-size="12.2" text-anchor="middle" class="sb">703-693-8665</text>
</g><!-- WHS seal -->
<g>
<circle cx="1847.4" cy="62.8" r="54.8" fill="#3fa9a0"/>
<circle cx="1847.4" cy="62.8" r="53.8" fill="#1c4fa1"/>
<circle cx="1847.4" cy="62.8" r="44" fill="#2e9b7b"/>
<circle cx="1847.4" cy="62.8" r="43" fill="#fff"/>
<circle cx="1847.4" cy="62.8" r="41" fill="#f4f8fb"/>
<clipPath id="globeclip"><circle cx="1847.4" cy="62.8" r="41"/></clipPath>
<g clip-path="url(#globeclip)">
<path d="M1815.4,42.8 L1825.4,32.8 L1839.4,26.799999999999997 L1845.4,32.8 L1843.4,44.8 L1844.4,52.8 L1837.4,58.8 L1829.4,54.8 L1823.4,56.8 L1817.4,50.8 Z" fill="#9fd0c8"/>
<path d="M1857.4,58.8 L1869.4,56.8 L1879.4,52.8 L1881.4,64.8 L1877.4,76.8 L1873.4,88.8 L1869.4,80.8 L1863.4,70.8 Z" fill="#9fd0c8"/>
<path d="M1819.4,82.8 L1833.4,84.8 L1839.4,92.8 L1837.4,100.8 L1825.4,96.8 Z" fill="#9fd0c8"/>
<g fill="none" stroke="#5a6fc4" stroke-width="1">
<ellipse cx="1847.4" cy="62.8" rx="14" ry="41"/><ellipse cx="1847.4" cy="62.8" rx="29" ry="41"/><path d="M1847.4,21.799999999999997 V103.8"/>
<path d="M1806.4,62.8 H1888.4"/><path d="M1811.4,43.8 Q1847.4,35.8 1883.4,43.8"/><path d="M1811.4,81.8 Q1847.4,89.8 1883.4,81.8"/><path d="M1825.4,28.799999999999997 Q1847.4,23.799999999999997 1869.4,28.799999999999997"/>
</g></g>
<path d="M1826.3,51.6 L1842.3,61.4 L1837.0,81.9 L1815.6,81.9 L1810.3,62.3 Z" fill="#1c4fa1"/>
<text x="1852.6" y="77.0" font-size="19" font-weight="bold" font-style="italic" fill="#1c4fa1" stroke="#fff" stroke-width="2.4" paint-order="stroke" text-anchor="middle" textLength="62" lengthAdjust="spacingAndGlyphs">WHS</text>
<defs><path id="ringtop" d="M1806.24,83.77 A46.2,46.2 0 1 1 1888.56,83.77"/><path id="ringbot" d="M1796.0,62.8 A51.400000000000006,51.400000000000006 0 0 0 1898.8000000000002,62.8"/></defs>
<text font-size="8.8" font-weight="bold" fill="#fff" letter-spacing="0"><textPath href="#ringtop" startOffset="50%" text-anchor="middle" textLength="168" lengthAdjust="spacingAndGlyphs">WASHINGTON HEADQUARTERS SERVICES</textPath></text>
<text font-size="7.2" font-weight="bold" fill="#fff"><textPath href="#ringbot" startOffset="50%" text-anchor="middle" textLength="98" lengthAdjust="spacingAndGlyphs">DEPARTMENT OF DEFENSE</textPath></text>
<circle cx="1801.2" cy="80.3" r="1.6" fill="#fff"/><circle cx="1893.6000000000001" cy="80.3" r="1.6" fill="#fff"/>
</g>
<g fill="none" stroke="#111" stroke-width="1.7"><circle cx="1529.6" cy="1273" r="15.2"/><ellipse cx="1529.6" cy="1273" rx="6.8" ry="15.2"/><path d="M1529.6,1257.8 V1288.2 M1514.3999999999999,1273 H1544.8"/><path d="M1516.5,1265.4 Q1529.6,1268.7 1542.7,1265.4"/><path d="M1516.5,1280.6 Q1529.6,1277.3 1542.7,1280.6"/></g>
<rect x="1500" y="1276.7" width="25.5" height="13" rx="5" fill="#14337a" stroke="#fff" stroke-width="1.2"/><rect x="1500.6" y="1277.3" width="24.3" height="11.8" rx="4.5" fill="#14337a" stroke="#000" stroke-width=".8"/>
<text x="1512.8" y="1287" font-size="9" font-weight="bold" fill="#fff" text-anchor="middle" textLength="19" lengthAdjust="spacingAndGlyphs">CAC</text>
<g fill="none" stroke="#111" stroke-width="1.7"><circle cx="1529.6" cy="1322" r="15.2"/><ellipse cx="1529.6" cy="1322" rx="6.8" ry="15.2"/><path d="M1529.6,1306.8 V1337.2 M1514.3999999999999,1322 H1544.8"/><path d="M1516.5,1314.4 Q1529.6,1317.7 1542.7,1314.4"/><path d="M1516.5,1329.6 Q1529.6,1326.3 1542.7,1329.6"/></g>
</svg>
</body></html>
